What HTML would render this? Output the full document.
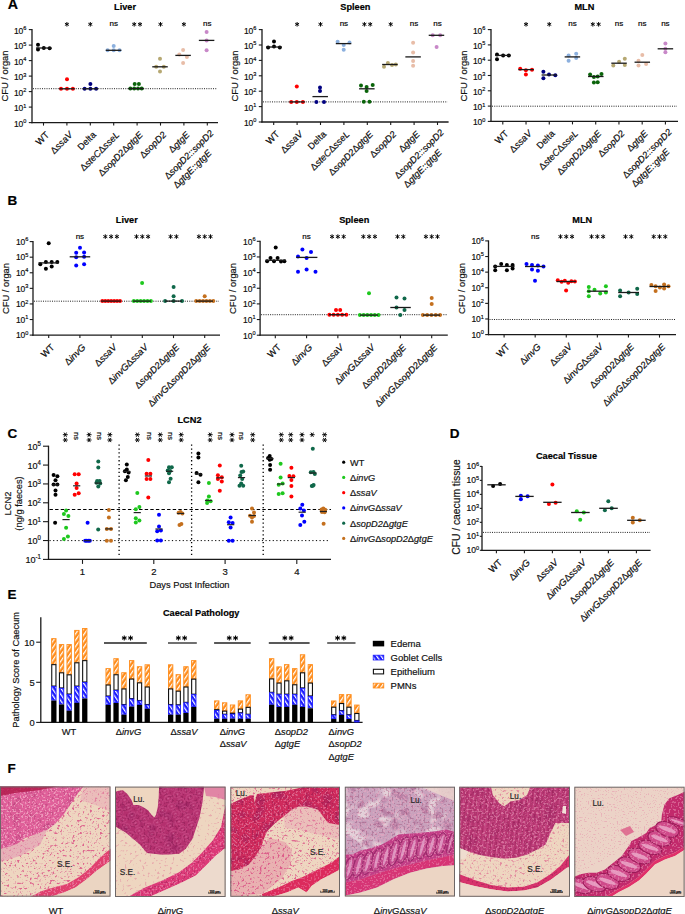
<!DOCTYPE html>
<html><head><meta charset="utf-8"><title>figure</title>
<style>html,body{margin:0;padding:0;background:#fff;}svg{display:block;}
text{font-family:"Liberation Sans", sans-serif;stroke:currentColor;stroke-width:0.18px;}</style></head>
<body>
<svg width="685" height="914" viewBox="0 0 685 914" font-family='"Liberation Sans", sans-serif'>
<rect width="685" height="914" fill="#ffffff"/>
<text x="7.8" y="9.2" font-size="14.2" text-anchor="start" font-weight="bold" fill="#000" color="#000">A</text>
<text x="7.5" y="204.6" font-size="13.5" text-anchor="start" font-weight="bold" fill="#000" color="#000">B</text>
<text x="7.5" y="437.8" font-size="13.5" text-anchor="start" font-weight="bold" fill="#000" color="#000">C</text>
<text x="449.8" y="437.8" font-size="13.5" text-anchor="start" font-weight="bold" fill="#000" color="#000">D</text>
<text x="7.5" y="599.2" font-size="13.5" text-anchor="start" font-weight="bold" fill="#000" color="#000">E</text>
<text x="7.5" y="773.3" font-size="13.5" text-anchor="start" font-weight="bold" fill="#000" color="#000">F</text>
<line x1="32" y1="29.1" x2="32" y2="123.2" stroke="#1a1a1a" stroke-width="1.3" stroke-linecap="butt"/>
<line x1="31.4" y1="122.6" x2="218" y2="122.6" stroke="#1a1a1a" stroke-width="1.3" stroke-linecap="butt"/>
<line x1="28.8" y1="29.6" x2="32" y2="29.6" stroke="#1a1a1a" stroke-width="1.1" stroke-linecap="butt"/>
<text transform="translate(26.4 33.6) scale(0.92 1)" font-size="9.2" text-anchor="end" fill="#111">10<tspan font-size="6.07" dy="-3.6">6</tspan></text>
<line x1="28.8" y1="45.1" x2="32" y2="45.1" stroke="#1a1a1a" stroke-width="1.1" stroke-linecap="butt"/>
<text transform="translate(26.4 49.1) scale(0.92 1)" font-size="9.2" text-anchor="end" fill="#111">10<tspan font-size="6.07" dy="-3.6">5</tspan></text>
<line x1="28.8" y1="60.6" x2="32" y2="60.6" stroke="#1a1a1a" stroke-width="1.1" stroke-linecap="butt"/>
<text transform="translate(26.4 64.6) scale(0.92 1)" font-size="9.2" text-anchor="end" fill="#111">10<tspan font-size="6.07" dy="-3.6">4</tspan></text>
<line x1="28.8" y1="76.1" x2="32" y2="76.1" stroke="#1a1a1a" stroke-width="1.1" stroke-linecap="butt"/>
<text transform="translate(26.4 80.1) scale(0.92 1)" font-size="9.2" text-anchor="end" fill="#111">10<tspan font-size="6.07" dy="-3.6">3</tspan></text>
<line x1="28.8" y1="91.6" x2="32" y2="91.6" stroke="#1a1a1a" stroke-width="1.1" stroke-linecap="butt"/>
<text transform="translate(26.4 95.6) scale(0.92 1)" font-size="9.2" text-anchor="end" fill="#111">10<tspan font-size="6.07" dy="-3.6">2</tspan></text>
<line x1="28.8" y1="107.1" x2="32" y2="107.1" stroke="#1a1a1a" stroke-width="1.1" stroke-linecap="butt"/>
<text transform="translate(26.4 111.1) scale(0.92 1)" font-size="9.2" text-anchor="end" fill="#111">10<tspan font-size="6.07" dy="-3.6">1</tspan></text>
<line x1="28.8" y1="122.6" x2="32" y2="122.6" stroke="#1a1a1a" stroke-width="1.1" stroke-linecap="butt"/>
<text transform="translate(26.4 126.6) scale(0.92 1)" font-size="9.2" text-anchor="end" fill="#111">10<tspan font-size="6.07" dy="-3.6">0</tspan></text>
<line x1="43.5" y1="122.6" x2="43.5" y2="125.6" stroke="#1a1a1a" stroke-width="1.1" stroke-linecap="butt"/>
<line x1="66.9" y1="122.6" x2="66.9" y2="125.6" stroke="#1a1a1a" stroke-width="1.1" stroke-linecap="butt"/>
<line x1="90.3" y1="122.6" x2="90.3" y2="125.6" stroke="#1a1a1a" stroke-width="1.1" stroke-linecap="butt"/>
<line x1="113.7" y1="122.6" x2="113.7" y2="125.6" stroke="#1a1a1a" stroke-width="1.1" stroke-linecap="butt"/>
<line x1="137.1" y1="122.6" x2="137.1" y2="125.6" stroke="#1a1a1a" stroke-width="1.1" stroke-linecap="butt"/>
<line x1="160.5" y1="122.6" x2="160.5" y2="125.6" stroke="#1a1a1a" stroke-width="1.1" stroke-linecap="butt"/>
<line x1="183.9" y1="122.6" x2="183.9" y2="125.6" stroke="#1a1a1a" stroke-width="1.1" stroke-linecap="butt"/>
<line x1="207.3" y1="122.6" x2="207.3" y2="125.6" stroke="#1a1a1a" stroke-width="1.1" stroke-linecap="butt"/>
<text x="125" y="9.6" font-size="9.2" text-anchor="middle" font-weight="bold" fill="#000" color="#000">Liver</text>
<text x="8" y="76" font-size="9.4" text-anchor="middle" fill="#111" color="#111" transform="rotate(-90 8 76)">CFU / organ</text>
<g transform="rotate(-45 49.8 135.4)">
<text x="49.8" y="135.4" font-size="9.3" text-anchor="end" fill="#111">WT</text>
</g>
<g transform="rotate(-45 73.2 135.4)">
<text x="73.2" y="135.4" font-size="9.3" text-anchor="end" fill="#111">Δ<tspan font-style="italic">ssaV</tspan></text>
</g>
<g transform="rotate(-45 96.6 135.4)">
<text x="96.6" y="135.4" font-size="9.3" text-anchor="end" fill="#111">Delta</text>
</g>
<g transform="rotate(-45 120 135.4)">
<text x="120" y="135.4" font-size="9.3" text-anchor="end" fill="#111">Δ<tspan font-style="italic">steC</tspan>Δ<tspan font-style="italic">sseL</tspan></text>
</g>
<g transform="rotate(-45 143.4 135.4)">
<text x="143.4" y="135.4" font-size="9.3" text-anchor="end" fill="#111">Δ<tspan font-style="italic">sopD2</tspan>Δ<tspan font-style="italic">gtgE</tspan></text>
</g>
<g transform="rotate(-45 166.8 135.4)">
<text x="166.8" y="135.4" font-size="9.3" text-anchor="end" fill="#111">Δ<tspan font-style="italic">sopD2</tspan></text>
</g>
<g transform="rotate(-45 190.2 135.4)">
<text x="190.2" y="135.4" font-size="9.3" text-anchor="end" fill="#111">Δ<tspan font-style="italic">gtgE</tspan></text>
</g>
<g transform="rotate(-45 214.2 133.8)">
<text x="214.2" y="133.8" font-size="9.3" text-anchor="end" fill="#111">Δ<tspan font-style="italic">sopD2::sopD2</tspan></text>
<text x="149.05" y="146.4" font-size="9.3" text-anchor="start" fill="#111">Δ<tspan font-style="italic">gtgE::gtgE</tspan></text>
</g>
<line x1="33" y1="88.7" x2="217" y2="88.7" stroke="#222" stroke-width="1" stroke-dasharray="1 1.25" stroke-linecap="butt"/>
<path d="M66.9 22L66.9 26.6M64.91 23.15L68.89 25.45M68.89 23.15L64.91 25.45" stroke="#000" stroke-width="0.95" stroke-linecap="butt" fill="none"/>
<path d="M90.3 22L90.3 26.6M88.31 23.15L92.29 25.45M92.29 23.15L88.31 25.45" stroke="#000" stroke-width="0.95" stroke-linecap="butt" fill="none"/>
<text x="113.7" y="26.4" font-size="8" text-anchor="middle" fill="#000" color="#000">ns</text>
<path d="M134.2 22L134.2 26.6M132.21 23.15L136.19 25.45M136.19 23.15L132.21 25.45" stroke="#000" stroke-width="0.95" stroke-linecap="butt" fill="none"/>
<path d="M140 22L140 26.6M138.01 23.15L141.99 25.45M141.99 23.15L138.01 25.45" stroke="#000" stroke-width="0.95" stroke-linecap="butt" fill="none"/>
<path d="M160.5 22L160.5 26.6M158.51 23.15L162.49 25.45M162.49 23.15L158.51 25.45" stroke="#000" stroke-width="0.95" stroke-linecap="butt" fill="none"/>
<path d="M183.9 22L183.9 26.6M181.91 23.15L185.89 25.45M185.89 23.15L181.91 25.45" stroke="#000" stroke-width="0.95" stroke-linecap="butt" fill="none"/>
<text x="207.3" y="26.4" font-size="8" text-anchor="middle" fill="#000" color="#000">ns</text>
<circle cx="38" cy="44.7" r="2" fill="#000000"/>
<circle cx="38" cy="49.6" r="2" fill="#000000"/>
<circle cx="43.8" cy="47.9" r="2" fill="#000000"/>
<circle cx="49.6" cy="48.2" r="2" fill="#000000"/>
<line x1="36.05" y1="48" x2="51.55" y2="48" stroke="#1a1a1a" stroke-width="1.3" stroke-linecap="butt"/>
<circle cx="61" cy="88.8" r="2" fill="#ff0000"/>
<circle cx="67" cy="88.8" r="2" fill="#ff0000"/>
<circle cx="72.9" cy="88.8" r="2" fill="#ff0000"/>
<circle cx="67" cy="79.3" r="2" fill="#ff0000"/>
<line x1="59.2" y1="88.8" x2="74.7" y2="88.8" stroke="#1a1a1a" stroke-width="1.3" stroke-linecap="butt"/>
<circle cx="84.6" cy="88.8" r="2" fill="#000080"/>
<circle cx="90.4" cy="88.8" r="2" fill="#000080"/>
<circle cx="96.1" cy="88.8" r="2" fill="#000080"/>
<circle cx="90.4" cy="84" r="2" fill="#000080"/>
<line x1="82.6" y1="88.8" x2="98.1" y2="88.8" stroke="#1a1a1a" stroke-width="1.3" stroke-linecap="butt"/>
<circle cx="107.6" cy="50.3" r="2" fill="#8cb0de"/>
<circle cx="113.7" cy="45.9" r="2" fill="#8cb0de"/>
<circle cx="113.7" cy="50.3" r="2" fill="#8cb0de"/>
<circle cx="119.5" cy="50.3" r="2" fill="#8cb0de"/>
<line x1="105.8" y1="50.3" x2="121.3" y2="50.3" stroke="#1a1a1a" stroke-width="1.3" stroke-linecap="butt"/>
<circle cx="130.4" cy="88.6" r="2" fill="#0a640a"/>
<circle cx="134.2" cy="88.6" r="2" fill="#0a640a"/>
<circle cx="138" cy="88.6" r="2" fill="#0a640a"/>
<circle cx="141.7" cy="88.6" r="2" fill="#0a640a"/>
<circle cx="134.7" cy="83.9" r="2" fill="#0a640a"/>
<circle cx="138.9" cy="83.9" r="2" fill="#0a640a"/>
<line x1="128.3" y1="88.6" x2="143.8" y2="88.6" stroke="#1a1a1a" stroke-width="1.3" stroke-linecap="butt"/>
<circle cx="160" cy="58.8" r="2" fill="#b6a872"/>
<circle cx="156.2" cy="66.8" r="2" fill="#b6a872"/>
<circle cx="163.8" cy="66.8" r="2" fill="#b6a872"/>
<circle cx="160" cy="71.5" r="2" fill="#b6a872"/>
<line x1="152.25" y1="66.8" x2="167.75" y2="66.8" stroke="#1a1a1a" stroke-width="1.3" stroke-linecap="butt"/>
<circle cx="183.1" cy="49.9" r="2" fill="#e8bda8"/>
<circle cx="179.3" cy="54.5" r="2" fill="#e8bda8"/>
<circle cx="186.9" cy="56.9" r="2" fill="#e8bda8"/>
<circle cx="183.1" cy="63" r="2" fill="#e8bda8"/>
<line x1="175.35" y1="55.4" x2="190.85" y2="55.4" stroke="#1a1a1a" stroke-width="1.3" stroke-linecap="butt"/>
<circle cx="206.6" cy="31.9" r="2" fill="#c888c8"/>
<circle cx="206.6" cy="40.4" r="2" fill="#c888c8"/>
<circle cx="206.6" cy="50.3" r="2" fill="#c888c8"/>
<line x1="198.85" y1="40.4" x2="214.35" y2="40.4" stroke="#1a1a1a" stroke-width="1.3" stroke-linecap="butt"/>
<line x1="262" y1="29.1" x2="262" y2="122.6" stroke="#1a1a1a" stroke-width="1.3" stroke-linecap="butt"/>
<line x1="261.4" y1="122" x2="448.6" y2="122" stroke="#1a1a1a" stroke-width="1.3" stroke-linecap="butt"/>
<line x1="258.8" y1="29.6" x2="262" y2="29.6" stroke="#1a1a1a" stroke-width="1.1" stroke-linecap="butt"/>
<text transform="translate(256.4 33.6) scale(0.92 1)" font-size="9.2" text-anchor="end" fill="#111">10<tspan font-size="6.07" dy="-3.6">6</tspan></text>
<line x1="258.8" y1="45" x2="262" y2="45" stroke="#1a1a1a" stroke-width="1.1" stroke-linecap="butt"/>
<text transform="translate(256.4 49) scale(0.92 1)" font-size="9.2" text-anchor="end" fill="#111">10<tspan font-size="6.07" dy="-3.6">5</tspan></text>
<line x1="258.8" y1="60.4" x2="262" y2="60.4" stroke="#1a1a1a" stroke-width="1.1" stroke-linecap="butt"/>
<text transform="translate(256.4 64.4) scale(0.92 1)" font-size="9.2" text-anchor="end" fill="#111">10<tspan font-size="6.07" dy="-3.6">4</tspan></text>
<line x1="258.8" y1="75.8" x2="262" y2="75.8" stroke="#1a1a1a" stroke-width="1.1" stroke-linecap="butt"/>
<text transform="translate(256.4 79.8) scale(0.92 1)" font-size="9.2" text-anchor="end" fill="#111">10<tspan font-size="6.07" dy="-3.6">3</tspan></text>
<line x1="258.8" y1="91.2" x2="262" y2="91.2" stroke="#1a1a1a" stroke-width="1.1" stroke-linecap="butt"/>
<text transform="translate(256.4 95.2) scale(0.92 1)" font-size="9.2" text-anchor="end" fill="#111">10<tspan font-size="6.07" dy="-3.6">2</tspan></text>
<line x1="258.8" y1="106.6" x2="262" y2="106.6" stroke="#1a1a1a" stroke-width="1.1" stroke-linecap="butt"/>
<text transform="translate(256.4 110.6) scale(0.92 1)" font-size="9.2" text-anchor="end" fill="#111">10<tspan font-size="6.07" dy="-3.6">1</tspan></text>
<line x1="258.8" y1="122" x2="262" y2="122" stroke="#1a1a1a" stroke-width="1.1" stroke-linecap="butt"/>
<text transform="translate(256.4 126) scale(0.92 1)" font-size="9.2" text-anchor="end" fill="#111">10<tspan font-size="6.07" dy="-3.6">0</tspan></text>
<line x1="273.7" y1="122" x2="273.7" y2="125" stroke="#1a1a1a" stroke-width="1.1" stroke-linecap="butt"/>
<line x1="297.1" y1="122" x2="297.1" y2="125" stroke="#1a1a1a" stroke-width="1.1" stroke-linecap="butt"/>
<line x1="320.5" y1="122" x2="320.5" y2="125" stroke="#1a1a1a" stroke-width="1.1" stroke-linecap="butt"/>
<line x1="343.9" y1="122" x2="343.9" y2="125" stroke="#1a1a1a" stroke-width="1.1" stroke-linecap="butt"/>
<line x1="367.3" y1="122" x2="367.3" y2="125" stroke="#1a1a1a" stroke-width="1.1" stroke-linecap="butt"/>
<line x1="390.7" y1="122" x2="390.7" y2="125" stroke="#1a1a1a" stroke-width="1.1" stroke-linecap="butt"/>
<line x1="414.1" y1="122" x2="414.1" y2="125" stroke="#1a1a1a" stroke-width="1.1" stroke-linecap="butt"/>
<line x1="437.5" y1="122" x2="437.5" y2="125" stroke="#1a1a1a" stroke-width="1.1" stroke-linecap="butt"/>
<text x="355.4" y="9.6" font-size="9.2" text-anchor="middle" font-weight="bold" fill="#000" color="#000">Spleen</text>
<text x="238" y="76" font-size="9.4" text-anchor="middle" fill="#111" color="#111" transform="rotate(-90 238 76)">CFU / organ</text>
<g transform="rotate(-45 280 134.8)">
<text x="280" y="134.8" font-size="9.3" text-anchor="end" fill="#111">WT</text>
</g>
<g transform="rotate(-45 303.4 134.8)">
<text x="303.4" y="134.8" font-size="9.3" text-anchor="end" fill="#111">Δ<tspan font-style="italic">ssaV</tspan></text>
</g>
<g transform="rotate(-45 326.8 134.8)">
<text x="326.8" y="134.8" font-size="9.3" text-anchor="end" fill="#111">Delta</text>
</g>
<g transform="rotate(-45 350.2 134.8)">
<text x="350.2" y="134.8" font-size="9.3" text-anchor="end" fill="#111">Δ<tspan font-style="italic">steC</tspan>Δ<tspan font-style="italic">sseL</tspan></text>
</g>
<g transform="rotate(-45 373.6 134.8)">
<text x="373.6" y="134.8" font-size="9.3" text-anchor="end" fill="#111">Δ<tspan font-style="italic">sopD2</tspan>Δ<tspan font-style="italic">gtgE</tspan></text>
</g>
<g transform="rotate(-45 397 134.8)">
<text x="397" y="134.8" font-size="9.3" text-anchor="end" fill="#111">Δ<tspan font-style="italic">sopD2</tspan></text>
</g>
<g transform="rotate(-45 420.4 134.8)">
<text x="420.4" y="134.8" font-size="9.3" text-anchor="end" fill="#111">Δ<tspan font-style="italic">gtgE</tspan></text>
</g>
<g transform="rotate(-45 444.4 133.2)">
<text x="444.4" y="133.2" font-size="9.3" text-anchor="end" fill="#111">Δ<tspan font-style="italic">sopD2::sopD2</tspan></text>
<text x="379.25" y="145.8" font-size="9.3" text-anchor="start" fill="#111">Δ<tspan font-style="italic">gtgE::gtgE</tspan></text>
</g>
<line x1="263" y1="101.9" x2="447.6" y2="101.9" stroke="#222" stroke-width="1" stroke-dasharray="1 1.25" stroke-linecap="butt"/>
<path d="M297.1 22L297.1 26.6M295.11 23.15L299.09 25.45M299.09 23.15L295.11 25.45" stroke="#000" stroke-width="0.95" stroke-linecap="butt" fill="none"/>
<path d="M320.5 22L320.5 26.6M318.51 23.15L322.49 25.45M322.49 23.15L318.51 25.45" stroke="#000" stroke-width="0.95" stroke-linecap="butt" fill="none"/>
<text x="343.9" y="26.4" font-size="8" text-anchor="middle" fill="#000" color="#000">ns</text>
<path d="M364.4 22L364.4 26.6M362.41 23.15L366.39 25.45M366.39 23.15L362.41 25.45" stroke="#000" stroke-width="0.95" stroke-linecap="butt" fill="none"/>
<path d="M370.2 22L370.2 26.6M368.21 23.15L372.19 25.45M372.19 23.15L368.21 25.45" stroke="#000" stroke-width="0.95" stroke-linecap="butt" fill="none"/>
<path d="M390.7 22L390.7 26.6M388.71 23.15L392.69 25.45M392.69 23.15L388.71 25.45" stroke="#000" stroke-width="0.95" stroke-linecap="butt" fill="none"/>
<text x="414.1" y="26.4" font-size="8" text-anchor="middle" fill="#000" color="#000">ns</text>
<text x="437.5" y="26.4" font-size="8" text-anchor="middle" fill="#000" color="#000">ns</text>
<circle cx="268.1" cy="47.6" r="2" fill="#000000"/>
<circle cx="274" cy="41.5" r="2" fill="#000000"/>
<circle cx="274" cy="46.4" r="2" fill="#000000"/>
<circle cx="279.8" cy="47.6" r="2" fill="#000000"/>
<line x1="266.2" y1="47" x2="281.7" y2="47" stroke="#1a1a1a" stroke-width="1.3" stroke-linecap="butt"/>
<circle cx="291.2" cy="101.9" r="2" fill="#ff0000"/>
<circle cx="296.8" cy="101.9" r="2" fill="#ff0000"/>
<circle cx="302.9" cy="101.9" r="2" fill="#ff0000"/>
<circle cx="296.8" cy="86.5" r="2" fill="#ff0000"/>
<line x1="289.3" y1="101.9" x2="304.8" y2="101.9" stroke="#1a1a1a" stroke-width="1.3" stroke-linecap="butt"/>
<circle cx="316.4" cy="101.9" r="2" fill="#000080"/>
<circle cx="324" cy="101.9" r="2" fill="#000080"/>
<circle cx="320" cy="87.4" r="2" fill="#000080"/>
<circle cx="320" cy="91" r="2" fill="#000080"/>
<line x1="312.45" y1="96.6" x2="327.95" y2="96.6" stroke="#1a1a1a" stroke-width="1.3" stroke-linecap="butt"/>
<circle cx="337.6" cy="41.7" r="2" fill="#8cb0de"/>
<circle cx="343.7" cy="45" r="2" fill="#8cb0de"/>
<circle cx="349.5" cy="42.5" r="2" fill="#8cb0de"/>
<circle cx="343.7" cy="49.7" r="2" fill="#8cb0de"/>
<line x1="335.8" y1="43.6" x2="351.3" y2="43.6" stroke="#1a1a1a" stroke-width="1.3" stroke-linecap="butt"/>
<circle cx="361" cy="85.4" r="2" fill="#0a640a"/>
<circle cx="366.6" cy="86.9" r="2" fill="#0a640a"/>
<circle cx="372.7" cy="85" r="2" fill="#0a640a"/>
<circle cx="366.6" cy="91.1" r="2" fill="#0a640a"/>
<circle cx="363.8" cy="101.8" r="2" fill="#0a640a"/>
<circle cx="369.5" cy="101.8" r="2" fill="#0a640a"/>
<line x1="359.1" y1="88.8" x2="374.6" y2="88.8" stroke="#1a1a1a" stroke-width="1.3" stroke-linecap="butt"/>
<circle cx="384" cy="66.8" r="2" fill="#b6a872"/>
<circle cx="387.9" cy="63" r="2" fill="#b6a872"/>
<circle cx="392" cy="64.9" r="2" fill="#b6a872"/>
<circle cx="395.8" cy="64.5" r="2" fill="#b6a872"/>
<line x1="382.15" y1="64.5" x2="397.65" y2="64.5" stroke="#1a1a1a" stroke-width="1.3" stroke-linecap="butt"/>
<circle cx="413.1" cy="42.7" r="2" fill="#e8bda8"/>
<circle cx="413.1" cy="52.6" r="2" fill="#e8bda8"/>
<circle cx="413.1" cy="61.1" r="2" fill="#e8bda8"/>
<circle cx="413.1" cy="65.8" r="2" fill="#e8bda8"/>
<line x1="405.35" y1="56.9" x2="420.85" y2="56.9" stroke="#1a1a1a" stroke-width="1.3" stroke-linecap="butt"/>
<circle cx="432.7" cy="35.3" r="2" fill="#c888c8"/>
<circle cx="440.2" cy="35.3" r="2" fill="#c888c8"/>
<circle cx="436.6" cy="46.9" r="2" fill="#c888c8"/>
<line x1="428.7" y1="35.3" x2="444.2" y2="35.3" stroke="#1a1a1a" stroke-width="1.3" stroke-linecap="butt"/>
<line x1="491" y1="29.1" x2="491" y2="122" stroke="#1a1a1a" stroke-width="1.3" stroke-linecap="butt"/>
<line x1="490.4" y1="121.4" x2="678" y2="121.4" stroke="#1a1a1a" stroke-width="1.3" stroke-linecap="butt"/>
<line x1="487.8" y1="29.6" x2="491" y2="29.6" stroke="#1a1a1a" stroke-width="1.1" stroke-linecap="butt"/>
<text transform="translate(485.4 33.6) scale(0.92 1)" font-size="9.2" text-anchor="end" fill="#111">10<tspan font-size="6.07" dy="-3.6">6</tspan></text>
<line x1="487.8" y1="44.9" x2="491" y2="44.9" stroke="#1a1a1a" stroke-width="1.1" stroke-linecap="butt"/>
<text transform="translate(485.4 48.9) scale(0.92 1)" font-size="9.2" text-anchor="end" fill="#111">10<tspan font-size="6.07" dy="-3.6">5</tspan></text>
<line x1="487.8" y1="60.2" x2="491" y2="60.2" stroke="#1a1a1a" stroke-width="1.1" stroke-linecap="butt"/>
<text transform="translate(485.4 64.2) scale(0.92 1)" font-size="9.2" text-anchor="end" fill="#111">10<tspan font-size="6.07" dy="-3.6">4</tspan></text>
<line x1="487.8" y1="75.5" x2="491" y2="75.5" stroke="#1a1a1a" stroke-width="1.1" stroke-linecap="butt"/>
<text transform="translate(485.4 79.5) scale(0.92 1)" font-size="9.2" text-anchor="end" fill="#111">10<tspan font-size="6.07" dy="-3.6">3</tspan></text>
<line x1="487.8" y1="90.8" x2="491" y2="90.8" stroke="#1a1a1a" stroke-width="1.1" stroke-linecap="butt"/>
<text transform="translate(485.4 94.8) scale(0.92 1)" font-size="9.2" text-anchor="end" fill="#111">10<tspan font-size="6.07" dy="-3.6">2</tspan></text>
<line x1="487.8" y1="106.1" x2="491" y2="106.1" stroke="#1a1a1a" stroke-width="1.1" stroke-linecap="butt"/>
<text transform="translate(485.4 110.1) scale(0.92 1)" font-size="9.2" text-anchor="end" fill="#111">10<tspan font-size="6.07" dy="-3.6">1</tspan></text>
<line x1="487.8" y1="121.4" x2="491" y2="121.4" stroke="#1a1a1a" stroke-width="1.1" stroke-linecap="butt"/>
<text transform="translate(485.4 125.4) scale(0.92 1)" font-size="9.2" text-anchor="end" fill="#111">10<tspan font-size="6.07" dy="-3.6">0</tspan></text>
<line x1="502.8" y1="121.4" x2="502.8" y2="124.4" stroke="#1a1a1a" stroke-width="1.1" stroke-linecap="butt"/>
<line x1="526.03" y1="121.4" x2="526.03" y2="124.4" stroke="#1a1a1a" stroke-width="1.1" stroke-linecap="butt"/>
<line x1="549.26" y1="121.4" x2="549.26" y2="124.4" stroke="#1a1a1a" stroke-width="1.1" stroke-linecap="butt"/>
<line x1="572.49" y1="121.4" x2="572.49" y2="124.4" stroke="#1a1a1a" stroke-width="1.1" stroke-linecap="butt"/>
<line x1="595.72" y1="121.4" x2="595.72" y2="124.4" stroke="#1a1a1a" stroke-width="1.1" stroke-linecap="butt"/>
<line x1="618.95" y1="121.4" x2="618.95" y2="124.4" stroke="#1a1a1a" stroke-width="1.1" stroke-linecap="butt"/>
<line x1="642.18" y1="121.4" x2="642.18" y2="124.4" stroke="#1a1a1a" stroke-width="1.1" stroke-linecap="butt"/>
<line x1="665.41" y1="121.4" x2="665.41" y2="124.4" stroke="#1a1a1a" stroke-width="1.1" stroke-linecap="butt"/>
<text x="584.4" y="9.6" font-size="9.2" text-anchor="middle" font-weight="bold" fill="#000" color="#000">MLN</text>
<text x="467" y="76" font-size="9.4" text-anchor="middle" fill="#111" color="#111" transform="rotate(-90 467 76)">CFU / organ</text>
<g transform="rotate(-45 509.1 134.2)">
<text x="509.1" y="134.2" font-size="9.3" text-anchor="end" fill="#111">WT</text>
</g>
<g transform="rotate(-45 532.33 134.2)">
<text x="532.33" y="134.2" font-size="9.3" text-anchor="end" fill="#111">Δ<tspan font-style="italic">ssaV</tspan></text>
</g>
<g transform="rotate(-45 555.56 134.2)">
<text x="555.56" y="134.2" font-size="9.3" text-anchor="end" fill="#111">Delta</text>
</g>
<g transform="rotate(-45 578.79 134.2)">
<text x="578.79" y="134.2" font-size="9.3" text-anchor="end" fill="#111">Δ<tspan font-style="italic">steC</tspan>Δ<tspan font-style="italic">sseL</tspan></text>
</g>
<g transform="rotate(-45 602.02 134.2)">
<text x="602.02" y="134.2" font-size="9.3" text-anchor="end" fill="#111">Δ<tspan font-style="italic">sopD2</tspan>Δ<tspan font-style="italic">gtgE</tspan></text>
</g>
<g transform="rotate(-45 625.25 134.2)">
<text x="625.25" y="134.2" font-size="9.3" text-anchor="end" fill="#111">Δ<tspan font-style="italic">sopD2</tspan></text>
</g>
<g transform="rotate(-45 648.48 134.2)">
<text x="648.48" y="134.2" font-size="9.3" text-anchor="end" fill="#111">Δ<tspan font-style="italic">gtgE</tspan></text>
</g>
<g transform="rotate(-45 672.31 132.6)">
<text x="672.31" y="132.6" font-size="9.3" text-anchor="end" fill="#111">Δ<tspan font-style="italic">sopD2::sopD2</tspan></text>
<text x="607.16" y="145.2" font-size="9.3" text-anchor="start" fill="#111">Δ<tspan font-style="italic">gtgE::gtgE</tspan></text>
</g>
<line x1="492" y1="106.2" x2="677" y2="106.2" stroke="#222" stroke-width="1" stroke-dasharray="1 1.25" stroke-linecap="butt"/>
<path d="M526.03 22L526.03 26.6M524.04 23.15L528.02 25.45M528.02 23.15L524.04 25.45" stroke="#000" stroke-width="0.95" stroke-linecap="butt" fill="none"/>
<path d="M549.26 22L549.26 26.6M547.27 23.15L551.25 25.45M551.25 23.15L547.27 25.45" stroke="#000" stroke-width="0.95" stroke-linecap="butt" fill="none"/>
<text x="572.49" y="26.4" font-size="8" text-anchor="middle" fill="#000" color="#000">ns</text>
<path d="M592.82 22L592.82 26.6M590.83 23.15L594.81 25.45M594.81 23.15L590.83 25.45" stroke="#000" stroke-width="0.95" stroke-linecap="butt" fill="none"/>
<path d="M598.62 22L598.62 26.6M596.63 23.15L600.61 25.45M600.61 23.15L596.63 25.45" stroke="#000" stroke-width="0.95" stroke-linecap="butt" fill="none"/>
<text x="618.95" y="26.4" font-size="8" text-anchor="middle" fill="#000" color="#000">ns</text>
<text x="642.18" y="26.4" font-size="8" text-anchor="middle" fill="#000" color="#000">ns</text>
<text x="665.41" y="26.4" font-size="8" text-anchor="middle" fill="#000" color="#000">ns</text>
<circle cx="497" cy="54.6" r="2" fill="#000000"/>
<circle cx="497" cy="59.2" r="2" fill="#000000"/>
<circle cx="503.1" cy="55.4" r="2" fill="#000000"/>
<circle cx="508.8" cy="55.4" r="2" fill="#000000"/>
<line x1="495.15" y1="55.4" x2="510.65" y2="55.4" stroke="#1a1a1a" stroke-width="1.3" stroke-linecap="butt"/>
<circle cx="520.2" cy="68.7" r="2" fill="#ff0000"/>
<circle cx="525.9" cy="70.2" r="2" fill="#ff0000"/>
<circle cx="532" cy="69.8" r="2" fill="#ff0000"/>
<circle cx="525.9" cy="74.6" r="2" fill="#ff0000"/>
<line x1="518.35" y1="69.6" x2="533.85" y2="69.6" stroke="#1a1a1a" stroke-width="1.3" stroke-linecap="butt"/>
<circle cx="543.4" cy="71.7" r="2" fill="#000080"/>
<circle cx="543.4" cy="78.2" r="2" fill="#000080"/>
<circle cx="549" cy="74.6" r="2" fill="#000080"/>
<circle cx="555.3" cy="75.3" r="2" fill="#000080"/>
<line x1="541.6" y1="75" x2="557.1" y2="75" stroke="#1a1a1a" stroke-width="1.3" stroke-linecap="butt"/>
<circle cx="568.6" cy="55.4" r="2" fill="#8cb0de"/>
<circle cx="568.6" cy="60.7" r="2" fill="#8cb0de"/>
<circle cx="576.2" cy="53.7" r="2" fill="#8cb0de"/>
<circle cx="576.2" cy="57.9" r="2" fill="#8cb0de"/>
<line x1="564.65" y1="56.9" x2="580.15" y2="56.9" stroke="#1a1a1a" stroke-width="1.3" stroke-linecap="butt"/>
<circle cx="590.1" cy="74.6" r="2" fill="#0a640a"/>
<circle cx="593.9" cy="76.9" r="2" fill="#0a640a"/>
<circle cx="597.7" cy="76.5" r="2" fill="#0a640a"/>
<circle cx="601.5" cy="74" r="2" fill="#0a640a"/>
<circle cx="593.9" cy="82.5" r="2" fill="#0a640a"/>
<circle cx="597.7" cy="82.2" r="2" fill="#0a640a"/>
<line x1="588.05" y1="76.5" x2="603.55" y2="76.5" stroke="#1a1a1a" stroke-width="1.3" stroke-linecap="butt"/>
<circle cx="613.3" cy="65.5" r="2" fill="#b6a872"/>
<circle cx="619.1" cy="61.7" r="2" fill="#b6a872"/>
<circle cx="624.8" cy="58.8" r="2" fill="#b6a872"/>
<circle cx="624.8" cy="65.1" r="2" fill="#b6a872"/>
<line x1="611.3" y1="63.2" x2="626.8" y2="63.2" stroke="#1a1a1a" stroke-width="1.3" stroke-linecap="butt"/>
<circle cx="642.3" cy="55" r="2" fill="#e8bda8"/>
<circle cx="638.5" cy="60.7" r="2" fill="#e8bda8"/>
<circle cx="638.5" cy="65.5" r="2" fill="#e8bda8"/>
<circle cx="646.1" cy="63.9" r="2" fill="#e8bda8"/>
<line x1="634.55" y1="62.2" x2="650.05" y2="62.2" stroke="#1a1a1a" stroke-width="1.3" stroke-linecap="butt"/>
<circle cx="665.4" cy="43.6" r="2" fill="#c888c8"/>
<circle cx="665.4" cy="48.8" r="2" fill="#c888c8"/>
<circle cx="665.4" cy="52.2" r="2" fill="#c888c8"/>
<line x1="657.65" y1="48.8" x2="673.15" y2="48.8" stroke="#1a1a1a" stroke-width="1.3" stroke-linecap="butt"/>
<line x1="33" y1="241.1" x2="33" y2="335.7" stroke="#1a1a1a" stroke-width="1.3" stroke-linecap="butt"/>
<line x1="32.4" y1="335.1" x2="220" y2="335.1" stroke="#1a1a1a" stroke-width="1.3" stroke-linecap="butt"/>
<line x1="29.7" y1="241.6" x2="33" y2="241.6" stroke="#1a1a1a" stroke-width="1.1" stroke-linecap="butt"/>
<text transform="translate(28.4 244.9) scale(0.92 1)" font-size="9.2" text-anchor="end" fill="#111">10<tspan font-size="6.07" dy="-3.6">6</tspan></text>
<line x1="29.7" y1="257.18" x2="33" y2="257.18" stroke="#1a1a1a" stroke-width="1.1" stroke-linecap="butt"/>
<text transform="translate(28.4 260.48) scale(0.92 1)" font-size="9.2" text-anchor="end" fill="#111">10<tspan font-size="6.07" dy="-3.6">5</tspan></text>
<line x1="29.7" y1="272.77" x2="33" y2="272.77" stroke="#1a1a1a" stroke-width="1.1" stroke-linecap="butt"/>
<text transform="translate(28.4 276.07) scale(0.92 1)" font-size="9.2" text-anchor="end" fill="#111">10<tspan font-size="6.07" dy="-3.6">4</tspan></text>
<line x1="29.7" y1="288.35" x2="33" y2="288.35" stroke="#1a1a1a" stroke-width="1.1" stroke-linecap="butt"/>
<text transform="translate(28.4 291.65) scale(0.92 1)" font-size="9.2" text-anchor="end" fill="#111">10<tspan font-size="6.07" dy="-3.6">3</tspan></text>
<line x1="29.7" y1="303.93" x2="33" y2="303.93" stroke="#1a1a1a" stroke-width="1.1" stroke-linecap="butt"/>
<text transform="translate(28.4 307.23) scale(0.92 1)" font-size="9.2" text-anchor="end" fill="#111">10<tspan font-size="6.07" dy="-3.6">2</tspan></text>
<line x1="29.7" y1="319.52" x2="33" y2="319.52" stroke="#1a1a1a" stroke-width="1.1" stroke-linecap="butt"/>
<text transform="translate(28.4 322.82) scale(0.92 1)" font-size="9.2" text-anchor="end" fill="#111">10<tspan font-size="6.07" dy="-3.6">1</tspan></text>
<line x1="29.7" y1="335.1" x2="33" y2="335.1" stroke="#1a1a1a" stroke-width="1.1" stroke-linecap="butt"/>
<text transform="translate(28.4 338.4) scale(0.92 1)" font-size="9.2" text-anchor="end" fill="#111">10<tspan font-size="6.07" dy="-3.6">0</tspan></text>
<line x1="48.7" y1="335.1" x2="48.7" y2="338.1" stroke="#1a1a1a" stroke-width="1.1" stroke-linecap="butt"/>
<line x1="79.9" y1="335.1" x2="79.9" y2="338.1" stroke="#1a1a1a" stroke-width="1.1" stroke-linecap="butt"/>
<line x1="111.1" y1="335.1" x2="111.1" y2="338.1" stroke="#1a1a1a" stroke-width="1.1" stroke-linecap="butt"/>
<line x1="142.3" y1="335.1" x2="142.3" y2="338.1" stroke="#1a1a1a" stroke-width="1.1" stroke-linecap="butt"/>
<line x1="173.5" y1="335.1" x2="173.5" y2="338.1" stroke="#1a1a1a" stroke-width="1.1" stroke-linecap="butt"/>
<line x1="204.7" y1="335.1" x2="204.7" y2="338.1" stroke="#1a1a1a" stroke-width="1.1" stroke-linecap="butt"/>
<text x="126.8" y="223.2" font-size="9.2" text-anchor="middle" font-weight="bold" fill="#000" color="#000">Liver</text>
<text x="9" y="288.5" font-size="9.4" text-anchor="middle" fill="#111" color="#111" transform="rotate(-90 9 288.5)">CFU / organ</text>
<g transform="rotate(-45 55 347.9)">
<text x="55" y="347.9" font-size="9.3" text-anchor="end" fill="#111">WT</text>
</g>
<g transform="rotate(-45 86.2 347.9)">
<text x="86.2" y="347.9" font-size="9.3" text-anchor="end" fill="#111">Δ<tspan font-style="italic">invG</tspan></text>
</g>
<g transform="rotate(-45 117.4 347.9)">
<text x="117.4" y="347.9" font-size="9.3" text-anchor="end" fill="#111">Δ<tspan font-style="italic">ssaV</tspan></text>
</g>
<g transform="rotate(-45 148.6 347.9)">
<text x="148.6" y="347.9" font-size="9.3" text-anchor="end" fill="#111">Δ<tspan font-style="italic">invG</tspan>Δ<tspan font-style="italic">ssaV</tspan></text>
</g>
<g transform="rotate(-45 179.8 347.9)">
<text x="179.8" y="347.9" font-size="9.3" text-anchor="end" fill="#111">Δ<tspan font-style="italic">sopD2</tspan>Δ<tspan font-style="italic">gtgE</tspan></text>
</g>
<g transform="rotate(-45 211 347.9)">
<text x="211" y="347.9" font-size="9.3" text-anchor="end" fill="#111">Δ<tspan font-style="italic">invG</tspan>Δ<tspan font-style="italic">sopD2</tspan>Δ<tspan font-style="italic">gtgE</tspan></text>
</g>
<line x1="34" y1="301.2" x2="219" y2="301.2" stroke="#222" stroke-width="1" stroke-dasharray="1 1.25" stroke-linecap="butt"/>
<text x="79.9" y="238.7" font-size="8" text-anchor="middle" fill="#000" color="#000">ns</text>
<path d="M105.3 234.3L105.3 238.9M103.31 235.45L107.29 237.75M107.29 235.45L103.31 237.75" stroke="#000" stroke-width="0.95" stroke-linecap="butt" fill="none"/>
<path d="M111.1 234.3L111.1 238.9M109.11 235.45L113.09 237.75M113.09 235.45L109.11 237.75" stroke="#000" stroke-width="0.95" stroke-linecap="butt" fill="none"/>
<path d="M116.9 234.3L116.9 238.9M114.91 235.45L118.89 237.75M118.89 235.45L114.91 237.75" stroke="#000" stroke-width="0.95" stroke-linecap="butt" fill="none"/>
<path d="M136.5 234.3L136.5 238.9M134.51 235.45L138.49 237.75M138.49 235.45L134.51 237.75" stroke="#000" stroke-width="0.95" stroke-linecap="butt" fill="none"/>
<path d="M142.3 234.3L142.3 238.9M140.31 235.45L144.29 237.75M144.29 235.45L140.31 237.75" stroke="#000" stroke-width="0.95" stroke-linecap="butt" fill="none"/>
<path d="M148.1 234.3L148.1 238.9M146.11 235.45L150.09 237.75M150.09 235.45L146.11 237.75" stroke="#000" stroke-width="0.95" stroke-linecap="butt" fill="none"/>
<path d="M170.6 234.3L170.6 238.9M168.61 235.45L172.59 237.75M172.59 235.45L168.61 237.75" stroke="#000" stroke-width="0.95" stroke-linecap="butt" fill="none"/>
<path d="M176.4 234.3L176.4 238.9M174.41 235.45L178.39 237.75M178.39 235.45L174.41 237.75" stroke="#000" stroke-width="0.95" stroke-linecap="butt" fill="none"/>
<path d="M198.9 234.3L198.9 238.9M196.91 235.45L200.89 237.75M200.89 235.45L196.91 237.75" stroke="#000" stroke-width="0.95" stroke-linecap="butt" fill="none"/>
<path d="M204.7 234.3L204.7 238.9M202.71 235.45L206.69 237.75M206.69 235.45L202.71 237.75" stroke="#000" stroke-width="0.95" stroke-linecap="butt" fill="none"/>
<path d="M210.5 234.3L210.5 238.9M208.51 235.45L212.49 237.75M212.49 235.45L208.51 237.75" stroke="#000" stroke-width="0.95" stroke-linecap="butt" fill="none"/>
<circle cx="48.7" cy="243.3" r="2" fill="#000000"/>
<circle cx="40.3" cy="264.2" r="2" fill="#000000"/>
<circle cx="45.9" cy="262.1" r="2" fill="#000000"/>
<circle cx="51.7" cy="262.1" r="2" fill="#000000"/>
<circle cx="57.3" cy="262.1" r="2" fill="#000000"/>
<circle cx="45.9" cy="268.7" r="2" fill="#000000"/>
<circle cx="51.7" cy="266.4" r="2" fill="#000000"/>
<line x1="38.5" y1="262.9" x2="58.7" y2="262.9" stroke="#1a1a1a" stroke-width="1.3" stroke-linecap="butt"/>
<circle cx="80" cy="247.7" r="2" fill="#0000ff"/>
<circle cx="76.2" cy="252.8" r="2" fill="#0000ff"/>
<circle cx="84.1" cy="252.4" r="2" fill="#0000ff"/>
<circle cx="76.2" cy="257.2" r="2" fill="#0000ff"/>
<circle cx="84.1" cy="256.8" r="2" fill="#0000ff"/>
<circle cx="76.2" cy="265.6" r="2" fill="#0000ff"/>
<circle cx="84.1" cy="264.2" r="2" fill="#0000ff"/>
<line x1="69.7" y1="256.8" x2="90.2" y2="256.8" stroke="#1a1a1a" stroke-width="1.3" stroke-linecap="butt"/>
<circle cx="102.3" cy="301.1" r="2" fill="#ff0000"/>
<circle cx="105.25" cy="301.1" r="2" fill="#ff0000"/>
<circle cx="108.2" cy="301.1" r="2" fill="#ff0000"/>
<circle cx="111.15" cy="301.1" r="2" fill="#ff0000"/>
<circle cx="114.1" cy="301.1" r="2" fill="#ff0000"/>
<circle cx="117.05" cy="301.1" r="2" fill="#ff0000"/>
<circle cx="120" cy="301.1" r="2" fill="#ff0000"/>
<line x1="101" y1="301.1" x2="121" y2="301.1" stroke="#1a1a1a" stroke-width="1.3" stroke-linecap="butt"/>
<circle cx="133.8" cy="301.1" r="2" fill="#1ec81e"/>
<circle cx="137.22" cy="301.1" r="2" fill="#1ec81e"/>
<circle cx="140.64" cy="301.1" r="2" fill="#1ec81e"/>
<circle cx="144.06" cy="301.1" r="2" fill="#1ec81e"/>
<circle cx="147.48" cy="301.1" r="2" fill="#1ec81e"/>
<circle cx="150.9" cy="301.1" r="2" fill="#1ec81e"/>
<circle cx="142.1" cy="283" r="2" fill="#1ec81e"/>
<line x1="133" y1="301.1" x2="151" y2="301.1" stroke="#1a1a1a" stroke-width="1.3" stroke-linecap="butt"/>
<circle cx="165.1" cy="301.1" r="2" fill="#10684a"/>
<circle cx="173.6" cy="301.1" r="2" fill="#10684a"/>
<circle cx="182" cy="301.1" r="2" fill="#10684a"/>
<circle cx="173.6" cy="296.3" r="2" fill="#10684a"/>
<circle cx="173.6" cy="286.9" r="2" fill="#10684a"/>
<line x1="165" y1="301.1" x2="182" y2="301.1" stroke="#1a1a1a" stroke-width="1.3" stroke-linecap="butt"/>
<circle cx="196.2" cy="301.1" r="2" fill="#c4701e"/>
<circle cx="199.62" cy="301.1" r="2" fill="#c4701e"/>
<circle cx="203.04" cy="301.1" r="2" fill="#c4701e"/>
<circle cx="206.46" cy="301.1" r="2" fill="#c4701e"/>
<circle cx="209.88" cy="301.1" r="2" fill="#c4701e"/>
<circle cx="213.3" cy="301.1" r="2" fill="#c4701e"/>
<circle cx="204.7" cy="296.3" r="2" fill="#c4701e"/>
<line x1="196" y1="301.1" x2="213" y2="301.1" stroke="#1a1a1a" stroke-width="1.3" stroke-linecap="butt"/>
<line x1="260.1" y1="240.8" x2="260.1" y2="335.8" stroke="#1a1a1a" stroke-width="1.3" stroke-linecap="butt"/>
<line x1="259.5" y1="335.2" x2="447.8" y2="335.2" stroke="#1a1a1a" stroke-width="1.3" stroke-linecap="butt"/>
<line x1="256.8" y1="241.3" x2="260.1" y2="241.3" stroke="#1a1a1a" stroke-width="1.1" stroke-linecap="butt"/>
<text transform="translate(255.5 244.6) scale(0.92 1)" font-size="9.2" text-anchor="end" fill="#111">10<tspan font-size="6.07" dy="-3.6">6</tspan></text>
<line x1="256.8" y1="256.95" x2="260.1" y2="256.95" stroke="#1a1a1a" stroke-width="1.1" stroke-linecap="butt"/>
<text transform="translate(255.5 260.25) scale(0.92 1)" font-size="9.2" text-anchor="end" fill="#111">10<tspan font-size="6.07" dy="-3.6">5</tspan></text>
<line x1="256.8" y1="272.6" x2="260.1" y2="272.6" stroke="#1a1a1a" stroke-width="1.1" stroke-linecap="butt"/>
<text transform="translate(255.5 275.9) scale(0.92 1)" font-size="9.2" text-anchor="end" fill="#111">10<tspan font-size="6.07" dy="-3.6">4</tspan></text>
<line x1="256.8" y1="288.25" x2="260.1" y2="288.25" stroke="#1a1a1a" stroke-width="1.1" stroke-linecap="butt"/>
<text transform="translate(255.5 291.55) scale(0.92 1)" font-size="9.2" text-anchor="end" fill="#111">10<tspan font-size="6.07" dy="-3.6">3</tspan></text>
<line x1="256.8" y1="303.9" x2="260.1" y2="303.9" stroke="#1a1a1a" stroke-width="1.1" stroke-linecap="butt"/>
<text transform="translate(255.5 307.2) scale(0.92 1)" font-size="9.2" text-anchor="end" fill="#111">10<tspan font-size="6.07" dy="-3.6">2</tspan></text>
<line x1="256.8" y1="319.55" x2="260.1" y2="319.55" stroke="#1a1a1a" stroke-width="1.1" stroke-linecap="butt"/>
<text transform="translate(255.5 322.85) scale(0.92 1)" font-size="9.2" text-anchor="end" fill="#111">10<tspan font-size="6.07" dy="-3.6">1</tspan></text>
<line x1="256.8" y1="335.2" x2="260.1" y2="335.2" stroke="#1a1a1a" stroke-width="1.1" stroke-linecap="butt"/>
<text transform="translate(255.5 338.5) scale(0.92 1)" font-size="9.2" text-anchor="end" fill="#111">10<tspan font-size="6.07" dy="-3.6">0</tspan></text>
<line x1="275.3" y1="335.2" x2="275.3" y2="338.2" stroke="#1a1a1a" stroke-width="1.1" stroke-linecap="butt"/>
<line x1="306.58" y1="335.2" x2="306.58" y2="338.2" stroke="#1a1a1a" stroke-width="1.1" stroke-linecap="butt"/>
<line x1="337.86" y1="335.2" x2="337.86" y2="338.2" stroke="#1a1a1a" stroke-width="1.1" stroke-linecap="butt"/>
<line x1="369.14" y1="335.2" x2="369.14" y2="338.2" stroke="#1a1a1a" stroke-width="1.1" stroke-linecap="butt"/>
<line x1="400.42" y1="335.2" x2="400.42" y2="338.2" stroke="#1a1a1a" stroke-width="1.1" stroke-linecap="butt"/>
<line x1="431.7" y1="335.2" x2="431.7" y2="338.2" stroke="#1a1a1a" stroke-width="1.1" stroke-linecap="butt"/>
<text x="354.2" y="223.2" font-size="9.2" text-anchor="middle" font-weight="bold" fill="#000" color="#000">Spleen</text>
<text x="236.1" y="288.5" font-size="9.4" text-anchor="middle" fill="#111" color="#111" transform="rotate(-90 236.1 288.5)">CFU / organ</text>
<g transform="rotate(-45 281.6 348)">
<text x="281.6" y="348" font-size="9.3" text-anchor="end" fill="#111">WT</text>
</g>
<g transform="rotate(-45 312.88 348)">
<text x="312.88" y="348" font-size="9.3" text-anchor="end" fill="#111">Δ<tspan font-style="italic">invG</tspan></text>
</g>
<g transform="rotate(-45 344.16 348)">
<text x="344.16" y="348" font-size="9.3" text-anchor="end" fill="#111">Δ<tspan font-style="italic">ssaV</tspan></text>
</g>
<g transform="rotate(-45 375.44 348)">
<text x="375.44" y="348" font-size="9.3" text-anchor="end" fill="#111">Δ<tspan font-style="italic">invG</tspan>Δ<tspan font-style="italic">ssaV</tspan></text>
</g>
<g transform="rotate(-45 406.72 348)">
<text x="406.72" y="348" font-size="9.3" text-anchor="end" fill="#111">Δ<tspan font-style="italic">sopD2</tspan>Δ<tspan font-style="italic">gtgE</tspan></text>
</g>
<g transform="rotate(-45 438 348)">
<text x="438" y="348" font-size="9.3" text-anchor="end" fill="#111">Δ<tspan font-style="italic">invG</tspan>Δ<tspan font-style="italic">sopD2</tspan>Δ<tspan font-style="italic">gtgE</tspan></text>
</g>
<line x1="261.1" y1="314.7" x2="446.8" y2="314.7" stroke="#222" stroke-width="1" stroke-dasharray="1 1.25" stroke-linecap="butt"/>
<text x="306.58" y="238.7" font-size="8" text-anchor="middle" fill="#000" color="#000">ns</text>
<path d="M332.06 234.3L332.06 238.9M330.07 235.45L334.05 237.75M334.05 235.45L330.07 237.75" stroke="#000" stroke-width="0.95" stroke-linecap="butt" fill="none"/>
<path d="M337.86 234.3L337.86 238.9M335.87 235.45L339.85 237.75M339.85 235.45L335.87 237.75" stroke="#000" stroke-width="0.95" stroke-linecap="butt" fill="none"/>
<path d="M343.66 234.3L343.66 238.9M341.67 235.45L345.65 237.75M345.65 235.45L341.67 237.75" stroke="#000" stroke-width="0.95" stroke-linecap="butt" fill="none"/>
<path d="M363.34 234.3L363.34 238.9M361.35 235.45L365.33 237.75M365.33 235.45L361.35 237.75" stroke="#000" stroke-width="0.95" stroke-linecap="butt" fill="none"/>
<path d="M369.14 234.3L369.14 238.9M367.15 235.45L371.13 237.75M371.13 235.45L367.15 237.75" stroke="#000" stroke-width="0.95" stroke-linecap="butt" fill="none"/>
<path d="M374.94 234.3L374.94 238.9M372.95 235.45L376.93 237.75M376.93 235.45L372.95 237.75" stroke="#000" stroke-width="0.95" stroke-linecap="butt" fill="none"/>
<path d="M397.52 234.3L397.52 238.9M395.53 235.45L399.51 237.75M399.51 235.45L395.53 237.75" stroke="#000" stroke-width="0.95" stroke-linecap="butt" fill="none"/>
<path d="M403.32 234.3L403.32 238.9M401.33 235.45L405.31 237.75M405.31 235.45L401.33 237.75" stroke="#000" stroke-width="0.95" stroke-linecap="butt" fill="none"/>
<path d="M425.9 234.3L425.9 238.9M423.91 235.45L427.89 237.75M427.89 235.45L423.91 237.75" stroke="#000" stroke-width="0.95" stroke-linecap="butt" fill="none"/>
<path d="M431.7 234.3L431.7 238.9M429.71 235.45L433.69 237.75M433.69 235.45L429.71 237.75" stroke="#000" stroke-width="0.95" stroke-linecap="butt" fill="none"/>
<path d="M437.5 234.3L437.5 238.9M435.51 235.45L439.49 237.75M439.49 235.45L435.51 237.75" stroke="#000" stroke-width="0.95" stroke-linecap="butt" fill="none"/>
<circle cx="275.7" cy="247.6" r="2" fill="#000000"/>
<circle cx="267.1" cy="261.2" r="2" fill="#000000"/>
<circle cx="270.5" cy="258" r="2" fill="#000000"/>
<circle cx="274" cy="261.2" r="2" fill="#000000"/>
<circle cx="277.6" cy="258" r="2" fill="#000000"/>
<circle cx="281" cy="261.6" r="2" fill="#000000"/>
<circle cx="284.4" cy="261.2" r="2" fill="#000000"/>
<line x1="265.5" y1="260.3" x2="286" y2="260.3" stroke="#1a1a1a" stroke-width="1.3" stroke-linecap="butt"/>
<circle cx="302.4" cy="249.5" r="2" fill="#0000ff"/>
<circle cx="311" cy="252.1" r="2" fill="#0000ff"/>
<circle cx="298" cy="256.5" r="2" fill="#0000ff"/>
<circle cx="306.6" cy="258" r="2" fill="#0000ff"/>
<circle cx="298" cy="271.7" r="2" fill="#0000ff"/>
<circle cx="306.6" cy="269.4" r="2" fill="#0000ff"/>
<circle cx="315.5" cy="271.7" r="2" fill="#0000ff"/>
<line x1="296.2" y1="257.4" x2="317.4" y2="257.4" stroke="#1a1a1a" stroke-width="1.3" stroke-linecap="butt"/>
<circle cx="329.4" cy="314.7" r="2" fill="#ff0000"/>
<circle cx="333.65" cy="314.7" r="2" fill="#ff0000"/>
<circle cx="337.9" cy="314.7" r="2" fill="#ff0000"/>
<circle cx="342.15" cy="314.7" r="2" fill="#ff0000"/>
<circle cx="346.4" cy="314.7" r="2" fill="#ff0000"/>
<circle cx="336" cy="309.9" r="2" fill="#ff0000"/>
<circle cx="340.2" cy="309.9" r="2" fill="#ff0000"/>
<line x1="329" y1="314.7" x2="346" y2="314.7" stroke="#1a1a1a" stroke-width="1.3" stroke-linecap="butt"/>
<circle cx="359.9" cy="315.1" r="2" fill="#1ec81e"/>
<circle cx="363.62" cy="315.1" r="2" fill="#1ec81e"/>
<circle cx="367.34" cy="315.1" r="2" fill="#1ec81e"/>
<circle cx="371.06" cy="315.1" r="2" fill="#1ec81e"/>
<circle cx="374.78" cy="315.1" r="2" fill="#1ec81e"/>
<circle cx="378.5" cy="315.1" r="2" fill="#1ec81e"/>
<circle cx="369" cy="293.3" r="2" fill="#1ec81e"/>
<line x1="360" y1="315.1" x2="378" y2="315.1" stroke="#1a1a1a" stroke-width="1.3" stroke-linecap="butt"/>
<circle cx="396.5" cy="297.6" r="2" fill="#10684a"/>
<circle cx="404.5" cy="298.6" r="2" fill="#10684a"/>
<circle cx="396.5" cy="307.5" r="2" fill="#10684a"/>
<circle cx="404.5" cy="310" r="2" fill="#10684a"/>
<circle cx="400.3" cy="315.1" r="2" fill="#10684a"/>
<line x1="390.3" y1="307.5" x2="410.8" y2="307.5" stroke="#1a1a1a" stroke-width="1.3" stroke-linecap="butt"/>
<circle cx="422.9" cy="315.1" r="2" fill="#c4701e"/>
<circle cx="427.17" cy="315.1" r="2" fill="#c4701e"/>
<circle cx="431.45" cy="315.1" r="2" fill="#c4701e"/>
<circle cx="435.73" cy="315.1" r="2" fill="#c4701e"/>
<circle cx="440" cy="315.1" r="2" fill="#c4701e"/>
<circle cx="431.7" cy="298" r="2" fill="#c4701e"/>
<circle cx="431.7" cy="304.1" r="2" fill="#c4701e"/>
<line x1="423" y1="315.1" x2="440" y2="315.1" stroke="#1a1a1a" stroke-width="1.3" stroke-linecap="butt"/>
<line x1="488.5" y1="240.4" x2="488.5" y2="335.2" stroke="#1a1a1a" stroke-width="1.3" stroke-linecap="butt"/>
<line x1="487.9" y1="334.6" x2="676" y2="334.6" stroke="#1a1a1a" stroke-width="1.3" stroke-linecap="butt"/>
<line x1="485.2" y1="240.9" x2="488.5" y2="240.9" stroke="#1a1a1a" stroke-width="1.1" stroke-linecap="butt"/>
<text transform="translate(483.9 244.2) scale(0.92 1)" font-size="9.2" text-anchor="end" fill="#111">10<tspan font-size="6.07" dy="-3.6">6</tspan></text>
<line x1="485.2" y1="256.52" x2="488.5" y2="256.52" stroke="#1a1a1a" stroke-width="1.1" stroke-linecap="butt"/>
<text transform="translate(483.9 259.82) scale(0.92 1)" font-size="9.2" text-anchor="end" fill="#111">10<tspan font-size="6.07" dy="-3.6">5</tspan></text>
<line x1="485.2" y1="272.13" x2="488.5" y2="272.13" stroke="#1a1a1a" stroke-width="1.1" stroke-linecap="butt"/>
<text transform="translate(483.9 275.43) scale(0.92 1)" font-size="9.2" text-anchor="end" fill="#111">10<tspan font-size="6.07" dy="-3.6">4</tspan></text>
<line x1="485.2" y1="287.75" x2="488.5" y2="287.75" stroke="#1a1a1a" stroke-width="1.1" stroke-linecap="butt"/>
<text transform="translate(483.9 291.05) scale(0.92 1)" font-size="9.2" text-anchor="end" fill="#111">10<tspan font-size="6.07" dy="-3.6">3</tspan></text>
<line x1="485.2" y1="303.37" x2="488.5" y2="303.37" stroke="#1a1a1a" stroke-width="1.1" stroke-linecap="butt"/>
<text transform="translate(483.9 306.67) scale(0.92 1)" font-size="9.2" text-anchor="end" fill="#111">10<tspan font-size="6.07" dy="-3.6">2</tspan></text>
<line x1="485.2" y1="318.98" x2="488.5" y2="318.98" stroke="#1a1a1a" stroke-width="1.1" stroke-linecap="butt"/>
<text transform="translate(483.9 322.28) scale(0.92 1)" font-size="9.2" text-anchor="end" fill="#111">10<tspan font-size="6.07" dy="-3.6">1</tspan></text>
<line x1="485.2" y1="334.6" x2="488.5" y2="334.6" stroke="#1a1a1a" stroke-width="1.1" stroke-linecap="butt"/>
<text transform="translate(483.9 337.9) scale(0.92 1)" font-size="9.2" text-anchor="end" fill="#111">10<tspan font-size="6.07" dy="-3.6">0</tspan></text>
<line x1="504.1" y1="334.6" x2="504.1" y2="337.6" stroke="#1a1a1a" stroke-width="1.1" stroke-linecap="butt"/>
<line x1="535.18" y1="334.6" x2="535.18" y2="337.6" stroke="#1a1a1a" stroke-width="1.1" stroke-linecap="butt"/>
<line x1="566.26" y1="334.6" x2="566.26" y2="337.6" stroke="#1a1a1a" stroke-width="1.1" stroke-linecap="butt"/>
<line x1="597.34" y1="334.6" x2="597.34" y2="337.6" stroke="#1a1a1a" stroke-width="1.1" stroke-linecap="butt"/>
<line x1="628.42" y1="334.6" x2="628.42" y2="337.6" stroke="#1a1a1a" stroke-width="1.1" stroke-linecap="butt"/>
<line x1="659.5" y1="334.6" x2="659.5" y2="337.6" stroke="#1a1a1a" stroke-width="1.1" stroke-linecap="butt"/>
<text x="582.2" y="223.2" font-size="9.2" text-anchor="middle" font-weight="bold" fill="#000" color="#000">MLN</text>
<text x="464.5" y="288.5" font-size="9.4" text-anchor="middle" fill="#111" color="#111" transform="rotate(-90 464.5 288.5)">CFU / organ</text>
<g transform="rotate(-45 510.4 347.4)">
<text x="510.4" y="347.4" font-size="9.3" text-anchor="end" fill="#111">WT</text>
</g>
<g transform="rotate(-45 541.48 347.4)">
<text x="541.48" y="347.4" font-size="9.3" text-anchor="end" fill="#111">Δ<tspan font-style="italic">invG</tspan></text>
</g>
<g transform="rotate(-45 572.56 347.4)">
<text x="572.56" y="347.4" font-size="9.3" text-anchor="end" fill="#111">Δ<tspan font-style="italic">ssaV</tspan></text>
</g>
<g transform="rotate(-45 603.64 347.4)">
<text x="603.64" y="347.4" font-size="9.3" text-anchor="end" fill="#111">Δ<tspan font-style="italic">invG</tspan>Δ<tspan font-style="italic">ssaV</tspan></text>
</g>
<g transform="rotate(-45 634.72 347.4)">
<text x="634.72" y="347.4" font-size="9.3" text-anchor="end" fill="#111">Δ<tspan font-style="italic">sopD2</tspan>Δ<tspan font-style="italic">gtgE</tspan></text>
</g>
<g transform="rotate(-45 665.8 347.4)">
<text x="665.8" y="347.4" font-size="9.3" text-anchor="end" fill="#111">Δ<tspan font-style="italic">invG</tspan>Δ<tspan font-style="italic">sopD2</tspan>Δ<tspan font-style="italic">gtgE</tspan></text>
</g>
<line x1="489.5" y1="319.5" x2="675" y2="319.5" stroke="#222" stroke-width="1" stroke-dasharray="1 1.25" stroke-linecap="butt"/>
<text x="535.18" y="238.7" font-size="8" text-anchor="middle" fill="#000" color="#000">ns</text>
<path d="M560.46 234.3L560.46 238.9M558.47 235.45L562.45 237.75M562.45 235.45L558.47 237.75" stroke="#000" stroke-width="0.95" stroke-linecap="butt" fill="none"/>
<path d="M566.26 234.3L566.26 238.9M564.27 235.45L568.25 237.75M568.25 235.45L564.27 237.75" stroke="#000" stroke-width="0.95" stroke-linecap="butt" fill="none"/>
<path d="M572.06 234.3L572.06 238.9M570.07 235.45L574.05 237.75M574.05 235.45L570.07 237.75" stroke="#000" stroke-width="0.95" stroke-linecap="butt" fill="none"/>
<path d="M591.54 234.3L591.54 238.9M589.55 235.45L593.53 237.75M593.53 235.45L589.55 237.75" stroke="#000" stroke-width="0.95" stroke-linecap="butt" fill="none"/>
<path d="M597.34 234.3L597.34 238.9M595.35 235.45L599.33 237.75M599.33 235.45L595.35 237.75" stroke="#000" stroke-width="0.95" stroke-linecap="butt" fill="none"/>
<path d="M603.14 234.3L603.14 238.9M601.15 235.45L605.13 237.75M605.13 235.45L601.15 237.75" stroke="#000" stroke-width="0.95" stroke-linecap="butt" fill="none"/>
<path d="M625.52 234.3L625.52 238.9M623.53 235.45L627.51 237.75M627.51 235.45L623.53 237.75" stroke="#000" stroke-width="0.95" stroke-linecap="butt" fill="none"/>
<path d="M631.32 234.3L631.32 238.9M629.33 235.45L633.31 237.75M633.31 235.45L629.33 237.75" stroke="#000" stroke-width="0.95" stroke-linecap="butt" fill="none"/>
<path d="M653.7 234.3L653.7 238.9M651.71 235.45L655.69 237.75M655.69 235.45L651.71 237.75" stroke="#000" stroke-width="0.95" stroke-linecap="butt" fill="none"/>
<path d="M659.5 234.3L659.5 238.9M657.51 235.45L661.49 237.75M661.49 235.45L657.51 237.75" stroke="#000" stroke-width="0.95" stroke-linecap="butt" fill="none"/>
<path d="M665.3 234.3L665.3 238.9M663.31 235.45L667.29 237.75M667.29 235.45L663.31 237.75" stroke="#000" stroke-width="0.95" stroke-linecap="butt" fill="none"/>
<circle cx="495.2" cy="266.4" r="2" fill="#000000"/>
<circle cx="495.2" cy="270.3" r="2" fill="#000000"/>
<circle cx="501.2" cy="264.1" r="2" fill="#000000"/>
<circle cx="506.9" cy="265" r="2" fill="#000000"/>
<circle cx="506.9" cy="270.3" r="2" fill="#000000"/>
<circle cx="512.6" cy="265" r="2" fill="#000000"/>
<circle cx="512.6" cy="268.4" r="2" fill="#000000"/>
<line x1="493.6" y1="266.4" x2="514.5" y2="266.4" stroke="#1a1a1a" stroke-width="1.3" stroke-linecap="butt"/>
<circle cx="526.5" cy="264.1" r="2" fill="#0000ff"/>
<circle cx="532" cy="265" r="2" fill="#0000ff"/>
<circle cx="537.9" cy="265.6" r="2" fill="#0000ff"/>
<circle cx="543.5" cy="266.5" r="2" fill="#0000ff"/>
<circle cx="532" cy="269.4" r="2" fill="#0000ff"/>
<circle cx="537.9" cy="270.7" r="2" fill="#0000ff"/>
<circle cx="535" cy="280.8" r="2" fill="#0000ff"/>
<line x1="525" y1="266.5" x2="544.9" y2="266.5" stroke="#1a1a1a" stroke-width="1.3" stroke-linecap="butt"/>
<circle cx="557.8" cy="280.2" r="2" fill="#ff0000"/>
<circle cx="561.6" cy="281.7" r="2" fill="#ff0000"/>
<circle cx="564.8" cy="280.8" r="2" fill="#ff0000"/>
<circle cx="568.2" cy="282.7" r="2" fill="#ff0000"/>
<circle cx="571.4" cy="281.2" r="2" fill="#ff0000"/>
<circle cx="574.9" cy="281.5" r="2" fill="#ff0000"/>
<circle cx="566.1" cy="290.6" r="2" fill="#ff0000"/>
<line x1="556.5" y1="281.5" x2="576" y2="281.5" stroke="#1a1a1a" stroke-width="1.3" stroke-linecap="butt"/>
<circle cx="588.8" cy="286.9" r="2" fill="#1ec81e"/>
<circle cx="588.8" cy="291.2" r="2" fill="#1ec81e"/>
<circle cx="588.8" cy="296.3" r="2" fill="#1ec81e"/>
<circle cx="594.5" cy="289.7" r="2" fill="#1ec81e"/>
<circle cx="600.2" cy="293.5" r="2" fill="#1ec81e"/>
<circle cx="605.9" cy="286.3" r="2" fill="#1ec81e"/>
<circle cx="605.9" cy="292.5" r="2" fill="#1ec81e"/>
<line x1="587.3" y1="291.2" x2="607.8" y2="291.2" stroke="#1a1a1a" stroke-width="1.3" stroke-linecap="butt"/>
<circle cx="620.1" cy="290.6" r="2" fill="#10684a"/>
<circle cx="620.1" cy="296.3" r="2" fill="#10684a"/>
<circle cx="628.6" cy="292.5" r="2" fill="#10684a"/>
<circle cx="637.2" cy="288.7" r="2" fill="#10684a"/>
<circle cx="637.2" cy="294.1" r="2" fill="#10684a"/>
<line x1="618.2" y1="292.5" x2="639" y2="292.5" stroke="#1a1a1a" stroke-width="1.3" stroke-linecap="butt"/>
<circle cx="651.4" cy="285" r="2" fill="#c4701e"/>
<circle cx="655.6" cy="286.3" r="2" fill="#c4701e"/>
<circle cx="659.9" cy="287.4" r="2" fill="#c4701e"/>
<circle cx="664.1" cy="284.4" r="2" fill="#c4701e"/>
<circle cx="664.1" cy="288.4" r="2" fill="#c4701e"/>
<circle cx="668.5" cy="286.3" r="2" fill="#c4701e"/>
<circle cx="655.6" cy="291" r="2" fill="#c4701e"/>
<line x1="649.5" y1="286.5" x2="669.8" y2="286.5" stroke="#1a1a1a" stroke-width="1.3" stroke-linecap="butt"/>
<line x1="48.5" y1="445.7" x2="48.5" y2="560" stroke="#1a1a1a" stroke-width="1.3" stroke-linecap="butt"/>
<line x1="47.9" y1="559.4" x2="331" y2="559.4" stroke="#1a1a1a" stroke-width="1.3" stroke-linecap="butt"/>
<line x1="43" y1="446.2" x2="48.5" y2="446.2" stroke="#1a1a1a" stroke-width="1.1" stroke-linecap="butt"/>
<text transform="translate(40.9 449.7) scale(0.95 1)" font-size="9.6" text-anchor="end" fill="#111">10<tspan font-size="6.34" dy="-3.6">5</tspan></text>
<line x1="43" y1="465.07" x2="48.5" y2="465.07" stroke="#1a1a1a" stroke-width="1.1" stroke-linecap="butt"/>
<text transform="translate(40.9 468.57) scale(0.95 1)" font-size="9.6" text-anchor="end" fill="#111">10<tspan font-size="6.34" dy="-3.6">4</tspan></text>
<line x1="43" y1="483.93" x2="48.5" y2="483.93" stroke="#1a1a1a" stroke-width="1.1" stroke-linecap="butt"/>
<text transform="translate(40.9 487.43) scale(0.95 1)" font-size="9.6" text-anchor="end" fill="#111">10<tspan font-size="6.34" dy="-3.6">3</tspan></text>
<line x1="43" y1="502.8" x2="48.5" y2="502.8" stroke="#1a1a1a" stroke-width="1.1" stroke-linecap="butt"/>
<text transform="translate(40.9 506.3) scale(0.95 1)" font-size="9.6" text-anchor="end" fill="#111">10<tspan font-size="6.34" dy="-3.6">2</tspan></text>
<line x1="43" y1="521.67" x2="48.5" y2="521.67" stroke="#1a1a1a" stroke-width="1.1" stroke-linecap="butt"/>
<text transform="translate(40.9 525.17) scale(0.95 1)" font-size="9.6" text-anchor="end" fill="#111">10<tspan font-size="6.34" dy="-3.6">1</tspan></text>
<line x1="43" y1="540.53" x2="48.5" y2="540.53" stroke="#1a1a1a" stroke-width="1.1" stroke-linecap="butt"/>
<text transform="translate(40.9 544.03) scale(0.95 1)" font-size="9.6" text-anchor="end" fill="#111">10<tspan font-size="6.34" dy="-3.6">0</tspan></text>
<line x1="43" y1="559.4" x2="48.5" y2="559.4" stroke="#1a1a1a" stroke-width="1.1" stroke-linecap="butt"/>
<text transform="translate(40.9 562.9) scale(0.95 1)" font-size="9.6" text-anchor="end" fill="#111">10<tspan font-size="6.34" dy="-3.6">-1</tspan></text>
<line x1="82.5" y1="559.4" x2="82.5" y2="563.9" stroke="#1a1a1a" stroke-width="1.1" stroke-linecap="butt"/>
<text x="82.5" y="575" font-size="9.5" text-anchor="middle" fill="#111" color="#111">1</text>
<line x1="153.8" y1="559.4" x2="153.8" y2="563.9" stroke="#1a1a1a" stroke-width="1.1" stroke-linecap="butt"/>
<text x="153.8" y="575" font-size="9.5" text-anchor="middle" fill="#111" color="#111">2</text>
<line x1="225.1" y1="559.4" x2="225.1" y2="563.9" stroke="#1a1a1a" stroke-width="1.1" stroke-linecap="butt"/>
<text x="225.1" y="575" font-size="9.5" text-anchor="middle" fill="#111" color="#111">3</text>
<line x1="296.8" y1="559.4" x2="296.8" y2="563.9" stroke="#1a1a1a" stroke-width="1.1" stroke-linecap="butt"/>
<text x="296.8" y="575" font-size="9.5" text-anchor="middle" fill="#111" color="#111">4</text>
<text x="189.5" y="587.5" font-size="9.3" text-anchor="middle" fill="#111" color="#111">Days Post Infection</text>
<text x="10.5" y="503.5" font-size="9.3" text-anchor="middle" fill="#111" color="#111" transform="rotate(-90 10.5 503.5)">LCN2</text>
<text x="21.5" y="503.5" font-size="9.3" text-anchor="middle" fill="#111" color="#111" transform="rotate(-90 21.5 503.5)">(ng/g faeces)</text>
<text x="189.5" y="423.3" font-size="9.2" text-anchor="middle" font-weight="bold" fill="#000" color="#000">LCN2</text>
<line x1="119.1" y1="444.5" x2="119.1" y2="557" stroke="#000" stroke-width="1.3" stroke-dasharray="1.3 2.6" stroke-linecap="butt"/>
<line x1="191.6" y1="444.5" x2="191.6" y2="557" stroke="#000" stroke-width="1.3" stroke-dasharray="1.3 2.6" stroke-linecap="butt"/>
<line x1="263.2" y1="444.5" x2="263.2" y2="557" stroke="#000" stroke-width="1.3" stroke-dasharray="1.3 2.6" stroke-linecap="butt"/>
<line x1="49.5" y1="509.5" x2="331" y2="509.5" stroke="#000" stroke-width="1.2" stroke-dasharray="3.4 2.2" stroke-linecap="butt"/>
<line x1="49.5" y1="540.6" x2="328" y2="540.6" stroke="#000" stroke-width="1" stroke-dasharray="1.2 2.4" stroke-linecap="butt"/>
<path d="M62.85 434.7L67.75 434.7M64.08 432.58L66.52 436.82M66.52 432.58L64.08 436.82" stroke="#000" stroke-width="0.95" stroke-linecap="butt" fill="none"/>
<path d="M62.85 440L67.75 440M64.08 437.88L66.52 442.12M66.52 437.88L64.08 442.12" stroke="#000" stroke-width="0.95" stroke-linecap="butt" fill="none"/>
<text x="73.9" y="436" font-size="7.4" text-anchor="middle" fill="#000" transform="rotate(90 73.9 436)">ns</text>
<path d="M86.65 434.7L91.55 434.7M87.88 432.58L90.32 436.82M90.32 432.58L87.88 436.82" stroke="#000" stroke-width="0.95" stroke-linecap="butt" fill="none"/>
<path d="M86.65 440L91.55 440M87.88 437.88L90.32 442.12M90.32 437.88L87.88 442.12" stroke="#000" stroke-width="0.95" stroke-linecap="butt" fill="none"/>
<text x="96.7" y="436" font-size="7.4" text-anchor="middle" fill="#000" transform="rotate(90 96.7 436)">ns</text>
<path d="M107.35 434.7L112.25 434.7M108.58 432.58L111.02 436.82M111.02 432.58L108.58 436.82" stroke="#000" stroke-width="0.95" stroke-linecap="butt" fill="none"/>
<path d="M107.35 440L112.25 440M108.58 437.88L111.02 442.12M111.02 437.88L108.58 442.12" stroke="#000" stroke-width="0.95" stroke-linecap="butt" fill="none"/>
<path d="M134.95 434.7L139.85 434.7M136.18 432.58L138.62 436.82M138.62 432.58L136.18 436.82" stroke="#000" stroke-width="0.95" stroke-linecap="butt" fill="none"/>
<path d="M134.95 440L139.85 440M136.18 437.88L138.62 442.12M138.62 437.88L136.18 442.12" stroke="#000" stroke-width="0.95" stroke-linecap="butt" fill="none"/>
<text x="146.7" y="436" font-size="7.4" text-anchor="middle" fill="#000" transform="rotate(90 146.7 436)">ns</text>
<path d="M157.85 434.7L162.75 434.7M159.08 432.58L161.53 436.82M161.53 432.58L159.08 436.82" stroke="#000" stroke-width="0.95" stroke-linecap="butt" fill="none"/>
<path d="M157.85 440L162.75 440M159.08 437.88L161.53 442.12M161.53 437.88L159.08 442.12" stroke="#000" stroke-width="0.95" stroke-linecap="butt" fill="none"/>
<text x="167.5" y="436" font-size="7.4" text-anchor="middle" fill="#000" transform="rotate(90 167.5 436)">ns</text>
<path d="M178.75 434.7L183.65 434.7M179.97 432.58L182.42 436.82M182.42 432.58L179.97 436.82" stroke="#000" stroke-width="0.95" stroke-linecap="butt" fill="none"/>
<path d="M178.75 440L183.65 440M179.97 437.88L182.42 442.12M182.42 437.88L179.97 442.12" stroke="#000" stroke-width="0.95" stroke-linecap="butt" fill="none"/>
<path d="M207.75 434.7L212.65 434.7M208.97 432.58L211.42 436.82M211.42 432.58L208.97 436.82" stroke="#000" stroke-width="0.95" stroke-linecap="butt" fill="none"/>
<path d="M207.75 440L212.65 440M208.97 437.88L211.42 442.12M211.42 437.88L208.97 442.12" stroke="#000" stroke-width="0.95" stroke-linecap="butt" fill="none"/>
<text x="218.2" y="436" font-size="7.4" text-anchor="middle" fill="#000" transform="rotate(90 218.2 436)">ns</text>
<path d="M229.55 434.7L234.45 434.7M230.78 432.58L233.22 436.82M233.22 432.58L230.78 436.82" stroke="#000" stroke-width="0.95" stroke-linecap="butt" fill="none"/>
<path d="M229.55 440L234.45 440M230.78 437.88L233.22 442.12M233.22 437.88L230.78 442.12" stroke="#000" stroke-width="0.95" stroke-linecap="butt" fill="none"/>
<text x="238.9" y="436" font-size="7.4" text-anchor="middle" fill="#000" transform="rotate(90 238.9 436)">ns</text>
<path d="M250.25 434.7L255.15 434.7M251.47 432.58L253.92 436.82M253.92 432.58L251.47 436.82" stroke="#000" stroke-width="0.95" stroke-linecap="butt" fill="none"/>
<path d="M250.25 440L255.15 440M251.47 437.88L253.92 442.12M253.92 437.88L251.47 442.12" stroke="#000" stroke-width="0.95" stroke-linecap="butt" fill="none"/>
<path d="M278.85 434.7L283.75 434.7M280.07 432.58L282.53 436.82M282.53 432.58L280.07 436.82" stroke="#000" stroke-width="0.95" stroke-linecap="butt" fill="none"/>
<path d="M278.85 440L283.75 440M280.07 437.88L282.53 442.12M282.53 437.88L280.07 442.12" stroke="#000" stroke-width="0.95" stroke-linecap="butt" fill="none"/>
<path d="M288.25 434.7L293.15 434.7M289.47 432.58L291.93 436.82M291.93 432.58L289.47 436.82" stroke="#000" stroke-width="0.95" stroke-linecap="butt" fill="none"/>
<path d="M288.25 440L293.15 440M289.47 437.88L291.93 442.12M291.93 437.88L289.47 442.12" stroke="#000" stroke-width="0.95" stroke-linecap="butt" fill="none"/>
<path d="M299.55 434.7L304.45 434.7M300.77 432.58L303.23 436.82M303.23 432.58L300.77 436.82" stroke="#000" stroke-width="0.95" stroke-linecap="butt" fill="none"/>
<path d="M299.55 440L304.45 440M300.77 437.88L303.23 442.12M303.23 437.88L300.77 442.12" stroke="#000" stroke-width="0.95" stroke-linecap="butt" fill="none"/>
<path d="M309.75 434.7L314.65 434.7M310.97 432.58L313.43 436.82M313.43 432.58L310.97 436.82" stroke="#000" stroke-width="0.95" stroke-linecap="butt" fill="none"/>
<path d="M322.15 434.7L327.05 434.7M323.38 432.58L325.83 436.82M325.83 432.58L323.38 436.82" stroke="#000" stroke-width="0.95" stroke-linecap="butt" fill="none"/>
<path d="M322.15 440L327.05 440M323.38 437.88L325.83 442.12M325.83 437.88L323.38 442.12" stroke="#000" stroke-width="0.95" stroke-linecap="butt" fill="none"/>
<circle cx="53.6" cy="474.9" r="2" fill="#000000"/>
<circle cx="57.4" cy="476.2" r="2" fill="#000000"/>
<circle cx="55.5" cy="480.2" r="2" fill="#000000"/>
<circle cx="53.6" cy="484.6" r="2" fill="#000000"/>
<circle cx="57.4" cy="484.6" r="2" fill="#000000"/>
<circle cx="55.5" cy="490.5" r="2" fill="#000000"/>
<circle cx="55.5" cy="494.8" r="2" fill="#000000"/>
<circle cx="55.1" cy="522.8" r="2" fill="#000000"/>
<circle cx="74.7" cy="474.3" r="2" fill="#ff0000"/>
<circle cx="78.7" cy="474.3" r="2" fill="#ff0000"/>
<circle cx="76.6" cy="483.6" r="2" fill="#ff0000"/>
<circle cx="76.6" cy="488.1" r="2" fill="#ff0000"/>
<circle cx="74.7" cy="494.8" r="2" fill="#ff0000"/>
<circle cx="78.7" cy="493.3" r="2" fill="#ff0000"/>
<circle cx="98.3" cy="461.4" r="2" fill="#10684a"/>
<circle cx="98.3" cy="467.5" r="2" fill="#10684a"/>
<circle cx="97.1" cy="480.9" r="2" fill="#10684a"/>
<circle cx="99.6" cy="480.9" r="2" fill="#10684a"/>
<circle cx="96.5" cy="482.7" r="2" fill="#10684a"/>
<circle cx="100.2" cy="483.6" r="2" fill="#10684a"/>
<circle cx="98.3" cy="486.5" r="2" fill="#10684a"/>
<circle cx="98.2" cy="529.6" r="2" fill="#10684a"/>
<circle cx="66.1" cy="510.4" r="2" fill="#1ec81e"/>
<circle cx="63.9" cy="514.1" r="2" fill="#1ec81e"/>
<circle cx="68.4" cy="515.9" r="2" fill="#1ec81e"/>
<circle cx="66.1" cy="527.8" r="2" fill="#1ec81e"/>
<circle cx="67.9" cy="536.5" r="2" fill="#1ec81e"/>
<circle cx="63.9" cy="538.9" r="2" fill="#1ec81e"/>
<circle cx="87.6" cy="522.8" r="2" fill="#0000ff"/>
<circle cx="85.2" cy="540.7" r="2" fill="#0000ff"/>
<circle cx="86.7" cy="540.7" r="2" fill="#0000ff"/>
<circle cx="88.3" cy="540.7" r="2" fill="#0000ff"/>
<circle cx="89.8" cy="540.7" r="2" fill="#0000ff"/>
<circle cx="108.9" cy="510.1" r="2" fill="#c4701e"/>
<circle cx="108.9" cy="517.4" r="2" fill="#c4701e"/>
<circle cx="106.8" cy="528.9" r="2" fill="#c4701e"/>
<circle cx="111" cy="528.9" r="2" fill="#c4701e"/>
<circle cx="106.8" cy="540.7" r="2" fill="#c4701e"/>
<circle cx="111" cy="540.7" r="2" fill="#c4701e"/>
<circle cx="126.8" cy="464.4" r="2" fill="#000000"/>
<circle cx="126.8" cy="469.4" r="2" fill="#000000"/>
<circle cx="124.9" cy="471.3" r="2" fill="#000000"/>
<circle cx="128.6" cy="472.5" r="2" fill="#000000"/>
<circle cx="127.8" cy="477" r="2" fill="#000000"/>
<circle cx="125.9" cy="480.3" r="2" fill="#000000"/>
<circle cx="148.3" cy="459.9" r="2" fill="#ff0000"/>
<circle cx="146.6" cy="473.7" r="2" fill="#ff0000"/>
<circle cx="150.4" cy="473.7" r="2" fill="#ff0000"/>
<circle cx="146.6" cy="479.1" r="2" fill="#ff0000"/>
<circle cx="150.4" cy="479.1" r="2" fill="#ff0000"/>
<circle cx="148.3" cy="497.4" r="2" fill="#ff0000"/>
<circle cx="169" cy="467.3" r="2" fill="#10684a"/>
<circle cx="171.8" cy="467.3" r="2" fill="#10684a"/>
<circle cx="167.7" cy="470.4" r="2" fill="#10684a"/>
<circle cx="170.2" cy="471" r="2" fill="#10684a"/>
<circle cx="169" cy="473.3" r="2" fill="#10684a"/>
<circle cx="170.6" cy="478.7" r="2" fill="#10684a"/>
<circle cx="169" cy="482.2" r="2" fill="#10684a"/>
<circle cx="137.3" cy="493.1" r="2" fill="#1ec81e"/>
<circle cx="139.4" cy="507.1" r="2" fill="#1ec81e"/>
<circle cx="135.8" cy="509.2" r="2" fill="#1ec81e"/>
<circle cx="135.8" cy="518.3" r="2" fill="#1ec81e"/>
<circle cx="139.4" cy="520.4" r="2" fill="#1ec81e"/>
<circle cx="135.8" cy="522.5" r="2" fill="#1ec81e"/>
<circle cx="159" cy="514.8" r="2" fill="#0000ff"/>
<circle cx="159" cy="526.6" r="2" fill="#0000ff"/>
<circle cx="157.2" cy="531.3" r="2" fill="#0000ff"/>
<circle cx="160.9" cy="530.6" r="2" fill="#0000ff"/>
<circle cx="157.2" cy="540.6" r="2" fill="#0000ff"/>
<circle cx="160.9" cy="540.6" r="2" fill="#0000ff"/>
<circle cx="178.6" cy="512.7" r="2" fill="#c4701e"/>
<circle cx="180.5" cy="512.1" r="2" fill="#c4701e"/>
<circle cx="182.4" cy="513.6" r="2" fill="#c4701e"/>
<circle cx="179.5" cy="525.1" r="2" fill="#c4701e"/>
<circle cx="181.4" cy="523.9" r="2" fill="#c4701e"/>
<circle cx="198.4" cy="453.6" r="2" fill="#000000"/>
<circle cx="198.4" cy="457.6" r="2" fill="#000000"/>
<circle cx="196.6" cy="473" r="2" fill="#000000"/>
<circle cx="200.5" cy="474.7" r="2" fill="#000000"/>
<circle cx="198.4" cy="482.2" r="2" fill="#000000"/>
<circle cx="219.8" cy="465.5" r="2" fill="#ff0000"/>
<circle cx="217.9" cy="475.2" r="2" fill="#ff0000"/>
<circle cx="221.8" cy="477.3" r="2" fill="#ff0000"/>
<circle cx="217.9" cy="479.1" r="2" fill="#ff0000"/>
<circle cx="221.8" cy="481.5" r="2" fill="#ff0000"/>
<circle cx="219.8" cy="490.7" r="2" fill="#ff0000"/>
<circle cx="241.2" cy="465.7" r="2" fill="#10684a"/>
<circle cx="241.5" cy="472" r="2" fill="#10684a"/>
<circle cx="243.2" cy="471.6" r="2" fill="#10684a"/>
<circle cx="240.2" cy="475.6" r="2" fill="#10684a"/>
<circle cx="242.2" cy="478.9" r="2" fill="#10684a"/>
<circle cx="241.2" cy="483.5" r="2" fill="#10684a"/>
<circle cx="239.5" cy="485.7" r="2" fill="#10684a"/>
<circle cx="243.2" cy="485.7" r="2" fill="#10684a"/>
<circle cx="208.9" cy="482.9" r="2" fill="#1ec81e"/>
<circle cx="208.9" cy="496.4" r="2" fill="#1ec81e"/>
<circle cx="207.3" cy="500.4" r="2" fill="#1ec81e"/>
<circle cx="210.6" cy="501.3" r="2" fill="#1ec81e"/>
<circle cx="207.1" cy="503" r="2" fill="#1ec81e"/>
<circle cx="230.6" cy="517.5" r="2" fill="#0000ff"/>
<circle cx="228.8" cy="522.3" r="2" fill="#0000ff"/>
<circle cx="232.6" cy="523.1" r="2" fill="#0000ff"/>
<circle cx="230.6" cy="527.6" r="2" fill="#0000ff"/>
<circle cx="228.8" cy="540.7" r="2" fill="#0000ff"/>
<circle cx="232.6" cy="540.7" r="2" fill="#0000ff"/>
<circle cx="252" cy="508.6" r="2" fill="#c4701e"/>
<circle cx="254" cy="512.6" r="2" fill="#c4701e"/>
<circle cx="250" cy="515.7" r="2" fill="#c4701e"/>
<circle cx="254" cy="516.1" r="2" fill="#c4701e"/>
<circle cx="252" cy="517.5" r="2" fill="#c4701e"/>
<circle cx="252" cy="521.8" r="2" fill="#c4701e"/>
<circle cx="269.7" cy="455.9" r="2" fill="#000000"/>
<circle cx="268.1" cy="457.9" r="2" fill="#000000"/>
<circle cx="271.4" cy="458.9" r="2" fill="#000000"/>
<circle cx="269.7" cy="459.8" r="2" fill="#000000"/>
<circle cx="270.1" cy="465.1" r="2" fill="#000000"/>
<circle cx="270.1" cy="469.7" r="2" fill="#000000"/>
<circle cx="280.6" cy="463.8" r="2" fill="#1ec81e"/>
<circle cx="280.6" cy="477.6" r="2" fill="#1ec81e"/>
<circle cx="278.7" cy="484.8" r="2" fill="#1ec81e"/>
<circle cx="282.6" cy="483.5" r="2" fill="#1ec81e"/>
<circle cx="278.7" cy="494" r="2" fill="#1ec81e"/>
<circle cx="282.6" cy="493.3" r="2" fill="#1ec81e"/>
<circle cx="291.4" cy="467.7" r="2" fill="#ff0000"/>
<circle cx="289.4" cy="476" r="2" fill="#ff0000"/>
<circle cx="293.4" cy="476.2" r="2" fill="#ff0000"/>
<circle cx="291.4" cy="479.9" r="2" fill="#ff0000"/>
<circle cx="291.4" cy="486.1" r="2" fill="#ff0000"/>
<circle cx="291.4" cy="496.4" r="2" fill="#ff0000"/>
<circle cx="312.8" cy="448.7" r="2" fill="#10684a"/>
<circle cx="310.8" cy="472.3" r="2" fill="#10684a"/>
<circle cx="313.5" cy="472" r="2" fill="#10684a"/>
<circle cx="314.8" cy="473.9" r="2" fill="#10684a"/>
<circle cx="312.8" cy="485.7" r="2" fill="#10684a"/>
<circle cx="311.8" cy="486.1" r="2" fill="#10684a"/>
<circle cx="313.6" cy="484.9" r="2" fill="#10684a"/>
<circle cx="302.3" cy="504.7" r="2" fill="#0000ff"/>
<circle cx="300.3" cy="508.6" r="2" fill="#0000ff"/>
<circle cx="303.9" cy="510.5" r="2" fill="#0000ff"/>
<circle cx="302" cy="515.5" r="2" fill="#0000ff"/>
<circle cx="304.3" cy="521.8" r="2" fill="#0000ff"/>
<circle cx="300.3" cy="525.1" r="2" fill="#0000ff"/>
<circle cx="321.5" cy="509.5" r="2" fill="#c4701e"/>
<circle cx="323.3" cy="508.5" r="2" fill="#c4701e"/>
<circle cx="325.2" cy="509.7" r="2" fill="#c4701e"/>
<circle cx="322" cy="512" r="2" fill="#c4701e"/>
<circle cx="324.6" cy="512.2" r="2" fill="#c4701e"/>
<circle cx="323.6" cy="523.8" r="2" fill="#c4701e"/>
<line x1="51.85" y1="485" x2="59.05" y2="485" stroke="#222" stroke-width="1.2" stroke-linecap="butt"/>
<line x1="73.07" y1="485.8" x2="80.27" y2="485.8" stroke="#222" stroke-width="1.2" stroke-linecap="butt"/>
<line x1="94.71" y1="483.1" x2="101.91" y2="483.1" stroke="#222" stroke-width="1.2" stroke-linecap="butt"/>
<line x1="62.45" y1="519.6" x2="69.65" y2="519.6" stroke="#222" stroke-width="1.2" stroke-linecap="butt"/>
<line x1="83.92" y1="540.7" x2="91.12" y2="540.7" stroke="#222" stroke-width="1.2" stroke-linecap="butt"/>
<line x1="105.3" y1="528.9" x2="112.5" y2="528.9" stroke="#222" stroke-width="1.2" stroke-linecap="butt"/>
<line x1="123.2" y1="471.5" x2="130.4" y2="471.5" stroke="#222" stroke-width="1.2" stroke-linecap="butt"/>
<line x1="144.83" y1="476" x2="152.03" y2="476" stroke="#222" stroke-width="1.2" stroke-linecap="butt"/>
<line x1="166.01" y1="471.3" x2="173.21" y2="471.3" stroke="#222" stroke-width="1.2" stroke-linecap="butt"/>
<line x1="133.65" y1="512.6" x2="140.85" y2="512.6" stroke="#222" stroke-width="1.2" stroke-linecap="butt"/>
<line x1="155.43" y1="529" x2="162.63" y2="529" stroke="#222" stroke-width="1.2" stroke-linecap="butt"/>
<line x1="176.88" y1="513.5" x2="184.08" y2="513.5" stroke="#222" stroke-width="1.2" stroke-linecap="butt"/>
<line x1="194.86" y1="474" x2="202.06" y2="474" stroke="#222" stroke-width="1.2" stroke-linecap="butt"/>
<line x1="216.23" y1="477.8" x2="223.43" y2="477.8" stroke="#222" stroke-width="1.2" stroke-linecap="butt"/>
<line x1="237.92" y1="477.6" x2="245.12" y2="477.6" stroke="#222" stroke-width="1.2" stroke-linecap="butt"/>
<line x1="204.96" y1="500.5" x2="212.16" y2="500.5" stroke="#222" stroke-width="1.2" stroke-linecap="butt"/>
<line x1="227.07" y1="524.7" x2="234.27" y2="524.7" stroke="#222" stroke-width="1.2" stroke-linecap="butt"/>
<line x1="248.73" y1="515.5" x2="255.93" y2="515.5" stroke="#222" stroke-width="1.2" stroke-linecap="butt"/>
<line x1="266.25" y1="458.5" x2="273.45" y2="458.5" stroke="#222" stroke-width="1.2" stroke-linecap="butt"/>
<line x1="277.03" y1="484" x2="284.23" y2="484" stroke="#222" stroke-width="1.2" stroke-linecap="butt"/>
<line x1="287.8" y1="477.6" x2="295" y2="477.6" stroke="#222" stroke-width="1.2" stroke-linecap="butt"/>
<line x1="309.27" y1="473" x2="316.47" y2="473" stroke="#222" stroke-width="1.2" stroke-linecap="butt"/>
<line x1="298.58" y1="512.2" x2="305.78" y2="512.2" stroke="#222" stroke-width="1.2" stroke-linecap="butt"/>
<line x1="319.77" y1="511.5" x2="326.97" y2="511.5" stroke="#222" stroke-width="1.2" stroke-linecap="butt"/>
<circle cx="343.7" cy="462.2" r="1.6" fill="#000000"/>
<text x="350.1" y="465.5" font-size="9.2" text-anchor="start" fill="#111" color="#111">WT</text>
<circle cx="343.7" cy="477.45" r="1.6" fill="#1ec81e"/>
<text x="350.1" y="480.75" font-size="9.2" text-anchor="start" fill="#111" color="#111">Δ<tspan font-style="italic">invG</tspan></text>
<circle cx="343.7" cy="492.7" r="1.6" fill="#ff0000"/>
<text x="350.1" y="496" font-size="9.2" text-anchor="start" fill="#111" color="#111">Δ<tspan font-style="italic">ssaV</tspan></text>
<circle cx="343.7" cy="507.95" r="1.6" fill="#0000ff"/>
<text x="350.1" y="511.25" font-size="9.2" text-anchor="start" fill="#111" color="#111">Δ<tspan font-style="italic">invG</tspan>Δ<tspan font-style="italic">ssaV</tspan></text>
<circle cx="343.7" cy="523.2" r="1.6" fill="#10684a"/>
<text x="350.1" y="526.5" font-size="9.2" text-anchor="start" fill="#111" color="#111">Δ<tspan font-style="italic">sopD2</tspan>Δ<tspan font-style="italic">gtgE</tspan></text>
<circle cx="343.7" cy="538.45" r="1.6" fill="#c4701e"/>
<text x="350.1" y="541.75" font-size="9.2" text-anchor="start" fill="#111" color="#111">Δ<tspan font-style="italic">invG</tspan>Δ<tspan font-style="italic">sopD2</tspan>Δ<tspan font-style="italic">gtgE</tspan></text>
<line x1="482" y1="465.9" x2="482" y2="550.9" stroke="#1a1a1a" stroke-width="1.3" stroke-linecap="butt"/>
<line x1="481.4" y1="550.3" x2="650.6" y2="550.3" stroke="#1a1a1a" stroke-width="1.3" stroke-linecap="butt"/>
<line x1="479.8" y1="466.4" x2="482" y2="466.4" stroke="#1a1a1a" stroke-width="1.1" stroke-linecap="butt"/>
<text transform="translate(479 469.2) scale(0.92 1)" font-size="9.2" text-anchor="end" fill="#111">10<tspan font-size="6.07" dy="-3.6">6</tspan></text>
<line x1="479.8" y1="480.38" x2="482" y2="480.38" stroke="#1a1a1a" stroke-width="1.1" stroke-linecap="butt"/>
<text transform="translate(479 483.18) scale(0.92 1)" font-size="9.2" text-anchor="end" fill="#111">10<tspan font-size="6.07" dy="-3.6">5</tspan></text>
<line x1="479.8" y1="494.37" x2="482" y2="494.37" stroke="#1a1a1a" stroke-width="1.1" stroke-linecap="butt"/>
<text transform="translate(479 497.17) scale(0.92 1)" font-size="9.2" text-anchor="end" fill="#111">10<tspan font-size="6.07" dy="-3.6">4</tspan></text>
<line x1="479.8" y1="508.35" x2="482" y2="508.35" stroke="#1a1a1a" stroke-width="1.1" stroke-linecap="butt"/>
<text transform="translate(479 511.15) scale(0.92 1)" font-size="9.2" text-anchor="end" fill="#111">10<tspan font-size="6.07" dy="-3.6">3</tspan></text>
<line x1="479.8" y1="522.33" x2="482" y2="522.33" stroke="#1a1a1a" stroke-width="1.1" stroke-linecap="butt"/>
<text transform="translate(479 525.13) scale(0.92 1)" font-size="9.2" text-anchor="end" fill="#111">10<tspan font-size="6.07" dy="-3.6">2</tspan></text>
<line x1="479.8" y1="536.32" x2="482" y2="536.32" stroke="#1a1a1a" stroke-width="1.1" stroke-linecap="butt"/>
<text transform="translate(479 539.12) scale(0.92 1)" font-size="9.2" text-anchor="end" fill="#111">10<tspan font-size="6.07" dy="-3.6">1</tspan></text>
<line x1="479.8" y1="550.3" x2="482" y2="550.3" stroke="#1a1a1a" stroke-width="1.1" stroke-linecap="butt"/>
<text transform="translate(479 553.1) scale(0.92 1)" font-size="9.2" text-anchor="end" fill="#111">10<tspan font-size="6.07" dy="-3.6">0</tspan></text>
<line x1="496.4" y1="550.3" x2="496.4" y2="553.3" stroke="#1a1a1a" stroke-width="1.1" stroke-linecap="butt"/>
<line x1="524.4" y1="550.3" x2="524.4" y2="553.3" stroke="#1a1a1a" stroke-width="1.1" stroke-linecap="butt"/>
<line x1="552.4" y1="550.3" x2="552.4" y2="553.3" stroke="#1a1a1a" stroke-width="1.1" stroke-linecap="butt"/>
<line x1="580.4" y1="550.3" x2="580.4" y2="553.3" stroke="#1a1a1a" stroke-width="1.1" stroke-linecap="butt"/>
<line x1="608.4" y1="550.3" x2="608.4" y2="553.3" stroke="#1a1a1a" stroke-width="1.1" stroke-linecap="butt"/>
<line x1="636.4" y1="550.3" x2="636.4" y2="553.3" stroke="#1a1a1a" stroke-width="1.1" stroke-linecap="butt"/>
<text x="566.5" y="459.2" font-size="9.2" text-anchor="middle" font-weight="bold" fill="#000" color="#000">Caecal Tissue</text>
<text x="459.6" y="507" font-size="10.3" text-anchor="middle" fill="#111" color="#111" transform="rotate(-90 459.6 507)">CFU / caecum tissue</text>
<g transform="rotate(-45 502.7 563.1)">
<text x="502.7" y="563.1" font-size="9.3" text-anchor="end" fill="#111">WT</text>
</g>
<g transform="rotate(-45 530.7 563.1)">
<text x="530.7" y="563.1" font-size="9.3" text-anchor="end" fill="#111">Δ<tspan font-style="italic">invG</tspan></text>
</g>
<g transform="rotate(-45 558.7 563.1)">
<text x="558.7" y="563.1" font-size="9.3" text-anchor="end" fill="#111">Δ<tspan font-style="italic">ssaV</tspan></text>
</g>
<g transform="rotate(-45 586.7 563.1)">
<text x="586.7" y="563.1" font-size="9.3" text-anchor="end" fill="#111">Δ<tspan font-style="italic">invG</tspan>Δ<tspan font-style="italic">ssaV</tspan></text>
</g>
<g transform="rotate(-45 614.7 563.1)">
<text x="614.7" y="563.1" font-size="9.3" text-anchor="end" fill="#111">Δ<tspan font-style="italic">sopD2</tspan>Δ<tspan font-style="italic">gtgE</tspan></text>
</g>
<g transform="rotate(-45 642.7 563.1)">
<text x="642.7" y="563.1" font-size="9.3" text-anchor="end" fill="#111">Δ<tspan font-style="italic">invG</tspan>Δ<tspan font-style="italic">sopD2</tspan>Δ<tspan font-style="italic">gtgE</tspan></text>
</g>
<line x1="483" y1="532.4" x2="650" y2="532.4" stroke="#222" stroke-width="1" stroke-dasharray="1 1.25" stroke-linecap="butt"/>
<circle cx="493.1" cy="486" r="2" fill="#000000"/>
<circle cx="500.1" cy="483.9" r="2" fill="#000000"/>
<line x1="487.3" y1="484.8" x2="505.7" y2="484.8" stroke="#1a1a1a" stroke-width="1.3" stroke-linecap="butt"/>
<circle cx="520.9" cy="495.7" r="2" fill="#0000ff"/>
<circle cx="520.9" cy="499.3" r="2" fill="#0000ff"/>
<circle cx="527.6" cy="496.2" r="2" fill="#0000ff"/>
<line x1="515.3" y1="496.4" x2="533.7" y2="496.4" stroke="#1a1a1a" stroke-width="1.3" stroke-linecap="butt"/>
<circle cx="552.4" cy="484.4" r="2" fill="#ff0000"/>
<circle cx="548.9" cy="504.1" r="2" fill="#ff0000"/>
<circle cx="555.6" cy="502.7" r="2" fill="#ff0000"/>
<line x1="543.2" y1="502.3" x2="561.6" y2="502.3" stroke="#1a1a1a" stroke-width="1.3" stroke-linecap="butt"/>
<circle cx="576.8" cy="511.2" r="2" fill="#1ec81e"/>
<circle cx="583.8" cy="512.5" r="2" fill="#1ec81e"/>
<circle cx="580.2" cy="519.7" r="2" fill="#1ec81e"/>
<line x1="571.1" y1="512.5" x2="589.7" y2="512.5" stroke="#1a1a1a" stroke-width="1.3" stroke-linecap="butt"/>
<circle cx="608.3" cy="501.3" r="2" fill="#10684a"/>
<circle cx="604.9" cy="510.2" r="2" fill="#10684a"/>
<circle cx="611.7" cy="508.3" r="2" fill="#10684a"/>
<line x1="599.2" y1="508.3" x2="617.8" y2="508.3" stroke="#1a1a1a" stroke-width="1.3" stroke-linecap="butt"/>
<circle cx="632.8" cy="517.8" r="2" fill="#c4701e"/>
<circle cx="632.8" cy="522.5" r="2" fill="#c4701e"/>
<circle cx="639.8" cy="520.3" r="2" fill="#c4701e"/>
<line x1="627.1" y1="520.3" x2="645.7" y2="520.3" stroke="#1a1a1a" stroke-width="1.3" stroke-linecap="butt"/>
<defs><pattern id="hatchO" patternUnits="userSpaceOnUse" width="3.6" height="3.6" patternTransform="rotate(35)"><rect width="3.6" height="3.6" fill="#ff8c1a"/><rect width="1.25" height="3.6" fill="#ffffff"/></pattern><pattern id="hatchB" patternUnits="userSpaceOnUse" width="3.6" height="3.6" patternTransform="rotate(-35)"><rect width="3.6" height="3.6" fill="#1a1aff"/><rect width="1.25" height="3.6" fill="#ffffff"/></pattern></defs>
<line x1="40.8" y1="617.3" x2="40.8" y2="723" stroke="#1a1a1a" stroke-width="1.3" stroke-linecap="butt"/>
<line x1="40.2" y1="722.4" x2="362.6" y2="722.4" stroke="#1a1a1a" stroke-width="1.3" stroke-linecap="butt"/>
<line x1="36.2" y1="722.4" x2="40.8" y2="722.4" stroke="#1a1a1a" stroke-width="1.1" stroke-linecap="butt"/>
<text x="34.6" y="725.8" font-size="9.4" text-anchor="end" fill="#111" color="#111">0</text>
<line x1="36.2" y1="682.3" x2="40.8" y2="682.3" stroke="#1a1a1a" stroke-width="1.1" stroke-linecap="butt"/>
<text x="34.6" y="685.7" font-size="9.4" text-anchor="end" fill="#111" color="#111">5</text>
<line x1="36.2" y1="642.2" x2="40.8" y2="642.2" stroke="#1a1a1a" stroke-width="1.1" stroke-linecap="butt"/>
<text x="34.6" y="645.6" font-size="9.4" text-anchor="end" fill="#111" color="#111">10</text>
<text x="18.6" y="669.8" font-size="9.3" text-anchor="middle" fill="#111" color="#111" transform="rotate(-90 18.6 669.8)">Pathology Score of Caecum</text>
<text x="201.2" y="615.8" font-size="9.2" text-anchor="middle" font-weight="bold" fill="#000" color="#000">Caecal Pathology</text>
<rect x="51.65" y="638.64" width="4.4" height="25.45" fill="url(#hatchO)" stroke="#ff8c1a" stroke-width="0.9"/>
<rect x="51.75" y="664.64" width="4.2" height="21.42" fill="#ffffff" stroke="#111" stroke-width="1.1"/>
<rect x="51.65" y="686.52" width="4.4" height="13.62" fill="url(#hatchB)" stroke="#1a1aff" stroke-width="0.9"/>
<rect x="51.2" y="700.59" width="5.3" height="21.81" fill="#000"/>
<rect x="59.35" y="644.57" width="4.4" height="27.7" fill="url(#hatchO)" stroke="#ff8c1a" stroke-width="0.9"/>
<rect x="59.45" y="672.82" width="4.2" height="15.09" fill="#ffffff" stroke="#111" stroke-width="1.1"/>
<rect x="59.35" y="688.36" width="4.4" height="15.62" fill="url(#hatchB)" stroke="#1a1aff" stroke-width="0.9"/>
<rect x="58.9" y="704.44" width="5.3" height="17.96" fill="#000"/>
<rect x="66.95" y="644.57" width="4.4" height="29.71" fill="url(#hatchO)" stroke="#ff8c1a" stroke-width="0.9"/>
<rect x="67.05" y="674.83" width="4.2" height="19.18" fill="#ffffff" stroke="#111" stroke-width="1.1"/>
<rect x="66.95" y="694.46" width="4.4" height="15.78" fill="url(#hatchB)" stroke="#1a1aff" stroke-width="0.9"/>
<rect x="66.5" y="710.69" width="5.3" height="11.71" fill="#000"/>
<rect x="74.65" y="630.38" width="4.4" height="31.87" fill="url(#hatchO)" stroke="#ff8c1a" stroke-width="0.9"/>
<rect x="74.75" y="662.8" width="4.2" height="23.27" fill="#ffffff" stroke="#111" stroke-width="1.1"/>
<rect x="74.65" y="686.52" width="4.4" height="15.86" fill="url(#hatchB)" stroke="#1a1aff" stroke-width="0.9"/>
<rect x="74.2" y="702.83" width="5.3" height="19.57" fill="#000"/>
<rect x="82.55" y="628.45" width="4.4" height="31.63" fill="url(#hatchO)" stroke="#ff8c1a" stroke-width="0.9"/>
<rect x="82.65" y="660.63" width="4.2" height="21.34" fill="#ffffff" stroke="#111" stroke-width="1.1"/>
<rect x="82.55" y="682.43" width="4.4" height="15.62" fill="url(#hatchB)" stroke="#1a1aff" stroke-width="0.9"/>
<rect x="82.1" y="698.5" width="5.3" height="23.9" fill="#000"/>
<rect x="105.95" y="668.63" width="4.4" height="15.83" fill="url(#hatchO)" stroke="#ff8c1a" stroke-width="0.9"/>
<rect x="106.05" y="685.02" width="4.2" height="11" fill="#ffffff" stroke="#111" stroke-width="1.1"/>
<rect x="105.95" y="696.46" width="4.4" height="8" fill="url(#hatchB)" stroke="#1a1aff" stroke-width="0.9"/>
<rect x="105.5" y="704.92" width="5.3" height="17.48" fill="#000"/>
<rect x="113.85" y="658.69" width="4.4" height="15.51" fill="url(#hatchO)" stroke="#ff8c1a" stroke-width="0.9"/>
<rect x="113.95" y="674.75" width="4.2" height="15.33" fill="#ffffff" stroke="#111" stroke-width="1.1"/>
<rect x="113.85" y="690.53" width="4.4" height="12.01" fill="url(#hatchB)" stroke="#1a1aff" stroke-width="0.9"/>
<rect x="113.4" y="702.99" width="5.3" height="19.41" fill="#000"/>
<rect x="121.75" y="672.73" width="4.4" height="15.67" fill="url(#hatchO)" stroke="#ff8c1a" stroke-width="0.9"/>
<rect x="121.85" y="688.95" width="4.2" height="15.57" fill="#ffffff" stroke="#111" stroke-width="1.1"/>
<rect x="121.75" y="704.97" width="4.4" height="9.29" fill="url(#hatchB)" stroke="#1a1aff" stroke-width="0.9"/>
<rect x="121.3" y="714.7" width="5.3" height="7.7" fill="#000"/>
<rect x="129.45" y="660.61" width="4.4" height="17.92" fill="url(#hatchO)" stroke="#ff8c1a" stroke-width="0.9"/>
<rect x="129.55" y="679.08" width="4.2" height="19.5" fill="#ffffff" stroke="#111" stroke-width="1.1"/>
<rect x="129.45" y="699.03" width="4.4" height="7.12" fill="url(#hatchB)" stroke="#1a1aff" stroke-width="0.9"/>
<rect x="129" y="706.6" width="5.3" height="15.8" fill="#000"/>
<rect x="137.35" y="666.71" width="4.4" height="15.59" fill="url(#hatchO)" stroke="#ff8c1a" stroke-width="0.9"/>
<rect x="137.45" y="682.85" width="4.2" height="17.66" fill="#ffffff" stroke="#111" stroke-width="1.1"/>
<rect x="137.35" y="700.96" width="4.4" height="3.51" fill="url(#hatchB)" stroke="#1a1aff" stroke-width="0.9"/>
<rect x="136.9" y="704.92" width="5.3" height="17.48" fill="#000"/>
<rect x="145.05" y="664.79" width="4.4" height="21.69" fill="url(#hatchO)" stroke="#ff8c1a" stroke-width="0.9"/>
<rect x="145.15" y="687.02" width="4.2" height="17.5" fill="#ffffff" stroke="#111" stroke-width="1.1"/>
<rect x="145.05" y="704.97" width="4.4" height="3.35" fill="url(#hatchB)" stroke="#1a1aff" stroke-width="0.9"/>
<rect x="144.6" y="708.77" width="5.3" height="13.63" fill="#000"/>
<rect x="168.45" y="664.79" width="4.4" height="23.61" fill="url(#hatchO)" stroke="#ff8c1a" stroke-width="0.9"/>
<rect x="168.55" y="688.95" width="4.2" height="15.57" fill="#ffffff" stroke="#111" stroke-width="1.1"/>
<rect x="168.45" y="704.97" width="4.4" height="9.29" fill="url(#hatchB)" stroke="#1a1aff" stroke-width="0.9"/>
<rect x="168" y="714.7" width="5.3" height="7.7" fill="#000"/>
<rect x="176.05" y="674.65" width="4.4" height="15.99" fill="url(#hatchO)" stroke="#ff8c1a" stroke-width="0.9"/>
<rect x="176.15" y="691.19" width="4.2" height="13.57" fill="#ffffff" stroke="#111" stroke-width="1.1"/>
<rect x="176.05" y="705.21" width="4.4" height="9.04" fill="url(#hatchB)" stroke="#1a1aff" stroke-width="0.9"/>
<rect x="175.6" y="714.7" width="5.3" height="7.7" fill="#000"/>
<rect x="183.75" y="666.71" width="4.4" height="19.76" fill="url(#hatchO)" stroke="#ff8c1a" stroke-width="0.9"/>
<rect x="183.85" y="687.02" width="4.2" height="15.33" fill="#ffffff" stroke="#111" stroke-width="1.1"/>
<rect x="183.75" y="702.8" width="4.4" height="9.69" fill="url(#hatchB)" stroke="#1a1aff" stroke-width="0.9"/>
<rect x="183.3" y="712.94" width="5.3" height="9.46" fill="#000"/>
<rect x="191.55" y="660.61" width="4.4" height="18" fill="url(#hatchO)" stroke="#ff8c1a" stroke-width="0.9"/>
<rect x="191.65" y="679.16" width="4.2" height="15.01" fill="#ffffff" stroke="#111" stroke-width="1.1"/>
<rect x="191.55" y="694.62" width="4.4" height="11.85" fill="url(#hatchB)" stroke="#1a1aff" stroke-width="0.9"/>
<rect x="191.1" y="706.92" width="5.3" height="15.48" fill="#000"/>
<rect x="214.55" y="700.88" width="4.4" height="8.21" fill="url(#hatchO)" stroke="#ff8c1a" stroke-width="0.9"/>
<rect x="214.65" y="709.64" width="4.2" height="0.49" fill="#ffffff" stroke="#111" stroke-width="1.1"/>
<rect x="214.55" y="710.58" width="4.4" height="7.76" fill="url(#hatchB)" stroke="#1a1aff" stroke-width="0.9"/>
<rect x="214.1" y="718.79" width="5.3" height="3.61" fill="#000"/>
<rect x="222.45" y="702.8" width="4.4" height="7.81" fill="url(#hatchO)" stroke="#ff8c1a" stroke-width="0.9"/>
<rect x="222.55" y="711.16" width="4.2" height="3.06" fill="#ffffff" stroke="#111" stroke-width="1.1"/>
<rect x="222.45" y="714.67" width="4.4" height="3.67" fill="url(#hatchB)" stroke="#1a1aff" stroke-width="0.9"/>
<rect x="222" y="718.79" width="5.3" height="3.61" fill="#000"/>
<rect x="230.35" y="704.97" width="4.4" height="7.73" fill="url(#hatchO)" stroke="#ff8c1a" stroke-width="0.9"/>
<rect x="230.45" y="713.25" width="4.2" height="0.49" fill="#ffffff" stroke="#111" stroke-width="1.1"/>
<rect x="230.35" y="714.19" width="4.4" height="3.99" fill="url(#hatchB)" stroke="#1a1aff" stroke-width="0.9"/>
<rect x="229.9" y="718.63" width="5.3" height="3.77" fill="#000"/>
<rect x="238.25" y="700.88" width="4.4" height="7.73" fill="url(#hatchO)" stroke="#ff8c1a" stroke-width="0.9"/>
<rect x="238.35" y="709.16" width="4.2" height="3.54" fill="#ffffff" stroke="#111" stroke-width="1.1"/>
<rect x="238.25" y="713.15" width="4.4" height="5.2" fill="url(#hatchB)" stroke="#1a1aff" stroke-width="0.9"/>
<rect x="237.8" y="718.79" width="5.3" height="3.61" fill="#000"/>
<rect x="245.95" y="694.78" width="4.4" height="12.06" fill="url(#hatchO)" stroke="#ff8c1a" stroke-width="0.9"/>
<rect x="246.05" y="707.39" width="4.2" height="6.83" fill="#ffffff" stroke="#111" stroke-width="1.1"/>
<rect x="245.95" y="714.67" width="4.4" height="3.67" fill="url(#hatchB)" stroke="#1a1aff" stroke-width="0.9"/>
<rect x="245.5" y="718.79" width="5.3" height="3.61" fill="#000"/>
<rect x="269.45" y="658.69" width="4.4" height="19.68" fill="url(#hatchO)" stroke="#ff8c1a" stroke-width="0.9"/>
<rect x="269.55" y="678.92" width="4.2" height="13.4" fill="#ffffff" stroke="#111" stroke-width="1.1"/>
<rect x="269.45" y="692.77" width="4.4" height="11.53" fill="url(#hatchB)" stroke="#1a1aff" stroke-width="0.9"/>
<rect x="269" y="704.76" width="5.3" height="17.64" fill="#000"/>
<rect x="276.85" y="666.87" width="4.4" height="15.67" fill="url(#hatchO)" stroke="#ff8c1a" stroke-width="0.9"/>
<rect x="276.95" y="683.09" width="4.2" height="11.08" fill="#ffffff" stroke="#111" stroke-width="1.1"/>
<rect x="276.85" y="694.62" width="4.4" height="11.85" fill="url(#hatchB)" stroke="#1a1aff" stroke-width="0.9"/>
<rect x="276.4" y="706.92" width="5.3" height="15.48" fill="#000"/>
<rect x="284.55" y="664.62" width="4.4" height="15.67" fill="url(#hatchO)" stroke="#ff8c1a" stroke-width="0.9"/>
<rect x="284.65" y="680.84" width="4.2" height="13.32" fill="#ffffff" stroke="#111" stroke-width="1.1"/>
<rect x="284.55" y="694.62" width="4.4" height="11.85" fill="url(#hatchB)" stroke="#1a1aff" stroke-width="0.9"/>
<rect x="284.1" y="706.92" width="5.3" height="15.48" fill="#000"/>
<rect x="292.55" y="668.63" width="4.4" height="15.59" fill="url(#hatchO)" stroke="#ff8c1a" stroke-width="0.9"/>
<rect x="292.65" y="684.77" width="4.2" height="9.39" fill="#ffffff" stroke="#111" stroke-width="1.1"/>
<rect x="292.55" y="694.62" width="4.4" height="9.69" fill="url(#hatchB)" stroke="#1a1aff" stroke-width="0.9"/>
<rect x="292.1" y="704.76" width="5.3" height="17.64" fill="#000"/>
<rect x="300.35" y="654.76" width="4.4" height="17.51" fill="url(#hatchO)" stroke="#ff8c1a" stroke-width="0.9"/>
<rect x="300.45" y="672.82" width="4.2" height="15.09" fill="#ffffff" stroke="#111" stroke-width="1.1"/>
<rect x="300.35" y="688.36" width="4.4" height="18.11" fill="url(#hatchB)" stroke="#1a1aff" stroke-width="0.9"/>
<rect x="299.9" y="706.92" width="5.3" height="15.48" fill="#000"/>
<rect x="308.15" y="664.62" width="4.4" height="17.92" fill="url(#hatchO)" stroke="#ff8c1a" stroke-width="0.9"/>
<rect x="308.25" y="683.09" width="4.2" height="12.84" fill="#ffffff" stroke="#111" stroke-width="1.1"/>
<rect x="308.15" y="696.38" width="4.4" height="11.45" fill="url(#hatchB)" stroke="#1a1aff" stroke-width="0.9"/>
<rect x="307.7" y="708.28" width="5.3" height="14.12" fill="#000"/>
<rect x="331.55" y="700.96" width="4.4" height="5.73" fill="url(#hatchO)" stroke="#ff8c1a" stroke-width="0.9"/>
<rect x="331.65" y="707.23" width="4.2" height="7.47" fill="#ffffff" stroke="#111" stroke-width="1.1"/>
<rect x="331.55" y="715.15" width="4.4" height="3.43" fill="url(#hatchB)" stroke="#1a1aff" stroke-width="0.9"/>
<rect x="331.1" y="719.03" width="5.3" height="3.37" fill="#000"/>
<rect x="339.35" y="694.62" width="4.4" height="8.37" fill="url(#hatchO)" stroke="#ff8c1a" stroke-width="0.9"/>
<rect x="339.45" y="703.54" width="4.2" height="6.99" fill="#ffffff" stroke="#111" stroke-width="1.1"/>
<rect x="339.35" y="710.98" width="4.4" height="3.43" fill="url(#hatchB)" stroke="#1a1aff" stroke-width="0.9"/>
<rect x="338.9" y="714.86" width="5.3" height="7.54" fill="#000"/>
<rect x="346.75" y="694.62" width="4.4" height="12.06" fill="url(#hatchO)" stroke="#ff8c1a" stroke-width="0.9"/>
<rect x="346.85" y="707.23" width="4.2" height="7.47" fill="#ffffff" stroke="#111" stroke-width="1.1"/>
<rect x="346.75" y="715.15" width="4.4" height="3.43" fill="url(#hatchB)" stroke="#1a1aff" stroke-width="0.9"/>
<rect x="346.3" y="719.03" width="5.3" height="3.37" fill="#000"/>
<rect x="354.65" y="705.05" width="4.4" height="7.89" fill="url(#hatchO)" stroke="#ff8c1a" stroke-width="0.9"/>
<rect x="354.75" y="713.49" width="4.2" height="6.99" fill="#ffffff" stroke="#111" stroke-width="1.1"/>
<rect x="354.65" y="720.93" width="4.4" height="1.02" fill="url(#hatchB)" stroke="#1a1aff" stroke-width="0.9"/>
<line x1="104" y1="643" x2="146.8" y2="643" stroke="#222" stroke-width="1.3" stroke-linecap="butt"/>
<path d="M124.25 635.4L124.25 640.6M122 636.7L126.5 639.3M126.5 636.7L122 639.3" stroke="#000" stroke-width="1.05" stroke-linecap="butt" fill="none"/>
<path d="M130.55 635.4L130.55 640.6M128.3 636.7L132.8 639.3M132.8 636.7L128.3 639.3" stroke="#000" stroke-width="1.05" stroke-linecap="butt" fill="none"/>
<line x1="168" y1="643" x2="196.8" y2="643" stroke="#222" stroke-width="1.3" stroke-linecap="butt"/>
<path d="M178.35 635.4L178.35 640.6M176.1 636.7L180.6 639.3M180.6 636.7L176.1 639.3" stroke="#000" stroke-width="1.05" stroke-linecap="butt" fill="none"/>
<path d="M184.65 635.4L184.65 640.6M182.4 636.7L186.9 639.3M186.9 636.7L182.4 639.3" stroke="#000" stroke-width="1.05" stroke-linecap="butt" fill="none"/>
<line x1="214.1" y1="643" x2="250.7" y2="643" stroke="#222" stroke-width="1.3" stroke-linecap="butt"/>
<path d="M229.25 635.4L229.25 640.6M227 636.7L231.5 639.3M231.5 636.7L227 639.3" stroke="#000" stroke-width="1.05" stroke-linecap="butt" fill="none"/>
<path d="M235.55 635.4L235.55 640.6M233.3 636.7L237.8 639.3M237.8 636.7L233.3 639.3" stroke="#000" stroke-width="1.05" stroke-linecap="butt" fill="none"/>
<line x1="268.8" y1="643" x2="309.6" y2="643" stroke="#222" stroke-width="1.3" stroke-linecap="butt"/>
<path d="M284.85 635.4L284.85 640.6M282.6 636.7L287.1 639.3M287.1 636.7L282.6 639.3" stroke="#000" stroke-width="1.05" stroke-linecap="butt" fill="none"/>
<path d="M291.15 635.4L291.15 640.6M288.9 636.7L293.4 639.3M293.4 636.7L288.9 639.3" stroke="#000" stroke-width="1.05" stroke-linecap="butt" fill="none"/>
<line x1="327.2" y1="643" x2="355.5" y2="643" stroke="#222" stroke-width="1.3" stroke-linecap="butt"/>
<path d="M337.55 635.4L337.55 640.6M335.3 636.7L339.8 639.3M339.8 636.7L335.3 639.3" stroke="#000" stroke-width="1.05" stroke-linecap="butt" fill="none"/>
<path d="M343.85 635.4L343.85 640.6M341.6 636.7L346.1 639.3M346.1 636.7L341.6 639.3" stroke="#000" stroke-width="1.05" stroke-linecap="butt" fill="none"/>
<text x="69" y="735" font-size="9.3" text-anchor="middle" fill="#111" color="#111">WT</text>
<text x="128.5" y="735" font-size="9.3" text-anchor="middle" fill="#111" color="#111">Δ<tspan font-style="italic">invG</tspan></text>
<text x="184" y="735" font-size="9.3" text-anchor="middle" fill="#111" color="#111">Δ<tspan font-style="italic">ssaV</tspan></text>
<text x="219.7" y="735" font-size="9.3" text-anchor="start" fill="#111" color="#111">Δ<tspan font-style="italic">invG</tspan></text>
<text x="219.7" y="747.3" font-size="9.3" text-anchor="start" fill="#111" color="#111">Δ<tspan font-style="italic">ssaV</tspan></text>
<text x="274.8" y="735" font-size="9.3" text-anchor="start" fill="#111" color="#111">Δ<tspan font-style="italic">sopD2</tspan></text>
<text x="274.8" y="747.3" font-size="9.3" text-anchor="start" fill="#111" color="#111">Δ<tspan font-style="italic">gtgE</tspan></text>
<text x="328.6" y="735" font-size="9.3" text-anchor="start" fill="#111" color="#111">Δ<tspan font-style="italic">invG</tspan></text>
<text x="328.6" y="747.3" font-size="9.3" text-anchor="start" fill="#111" color="#111">Δ<tspan font-style="italic">sopD2</tspan></text>
<text x="328.6" y="759.6" font-size="9.3" text-anchor="start" fill="#111" color="#111">Δ<tspan font-style="italic">gtgE</tspan></text>
<rect x="372.8" y="640.8" width="11.4" height="5.6" fill="#000"/>
<text x="390.6" y="647" font-size="9.5" text-anchor="start" fill="#111" color="#111">Edema</text>
<rect x="373.2" y="655.2" width="10.6" height="4.8" fill="url(#hatchB)" stroke="#1a1aff" stroke-width="0.8"/>
<text x="390.6" y="661" font-size="9.5" text-anchor="start" fill="#111" color="#111">Goblet Cells</text>
<rect x="373.4" y="669.3" width="10.2" height="4.6" fill="#fff" stroke="#111" stroke-width="1.1"/>
<text x="390.6" y="675" font-size="9.5" text-anchor="start" fill="#111" color="#111">Epithelium</text>
<rect x="373.2" y="683.2" width="10.6" height="4.8" fill="url(#hatchO)" stroke="#ff8c1a" stroke-width="0.8"/>
<text x="390.6" y="689" font-size="9.5" text-anchor="start" fill="#111" color="#111">PMNs</text>
<defs>
<clipPath id="cp0"><rect x="0" y="786.4" width="110.5" height="110.3"/></clipPath>
<clipPath id="cp1"><rect x="115" y="786.6" width="110.6" height="110.4"/></clipPath>
<clipPath id="cp2"><rect x="230.3" y="786.7" width="109.7" height="110.1"/></clipPath>
<clipPath id="cp3"><rect x="344.8" y="786.7" width="110.2" height="109.8"/></clipPath>
<clipPath id="cp4"><rect x="459.2" y="786.7" width="110.8" height="110.1"/></clipPath>
<clipPath id="cp5"><rect x="574.3" y="786.7" width="110.3" height="110.3"/></clipPath>
<filter id="spP" x="0" y="0" width="1" height="1" color-interpolation-filters="sRGB"><feTurbulence type="fractalNoise" baseFrequency="0.4" numOctaves="1" seed="2" result="n"/><feColorMatrix in="n" type="matrix" values="0 0 0 0 0.863  0 0 0 0 0.353  0 0 0 0 0.533  9.00 0 0 0 -5.45"/><feGaussianBlur stdDeviation="0.3"/><feComposite operator="in" in2="SourceGraphic"/></filter>
<filter id="spP2" x="0" y="0" width="1" height="1" color-interpolation-filters="sRGB"><feTurbulence type="fractalNoise" baseFrequency="0.8" numOctaves="1" seed="5" result="n"/><feColorMatrix in="n" type="matrix" values="0 0 0 0 0.878  0 0 0 0 0.478  0 0 0 0 0.612  9.00 0 0 0 -5.60"/><feGaussianBlur stdDeviation="0.3"/><feComposite operator="in" in2="SourceGraphic"/></filter>
<filter id="spL" x="0" y="0" width="1" height="1" color-interpolation-filters="sRGB"><feTurbulence type="fractalNoise" baseFrequency="0.7" numOctaves="1" seed="11" result="n"/><feColorMatrix in="n" type="matrix" values="0 0 0 0 0.898  0 0 0 0 0.541  0 0 0 0 0.651  10.00 0 0 0 -6.00"/><feComposite operator="in" in2="SourceGraphic"/></filter>
<filter id="dkS" x="0" y="0" width="1" height="1" color-interpolation-filters="sRGB"><feTurbulence type="fractalNoise" baseFrequency="0.5" numOctaves="1" seed="4" result="n"/><feColorMatrix in="n" type="matrix" values="0 0 0 0 0.478  0 0 0 0 0.078  0 0 0 0 0.282  10.00 0 0 0 -5.60"/><feComposite operator="in" in2="SourceGraphic"/></filter>
<filter id="ltS" x="0" y="0" width="1" height="1" color-interpolation-filters="sRGB"><feTurbulence type="fractalNoise" baseFrequency="0.55" numOctaves="1" seed="9" result="n"/><feColorMatrix in="n" type="matrix" values="0 0 0 0 0.949  0 0 0 0 0.659  0 0 0 0 0.769  10.00 0 0 0 -5.40"/><feComposite operator="in" in2="SourceGraphic"/></filter>
<filter id="blob" x="0" y="0" width="1" height="1" color-interpolation-filters="sRGB"><feTurbulence type="fractalNoise" baseFrequency="0.09" numOctaves="2" seed="17" result="n"/><feColorMatrix in="n" type="matrix" values="0 0 0 0 0.557  0 0 0 0 0.118  0 0 0 0 0.361  6.00 0 0 0 -3.20"/><feComposite operator="in" in2="SourceGraphic"/></filter>
<filter id="blobL" x="0" y="0" width="1" height="1" color-interpolation-filters="sRGB"><feTurbulence type="fractalNoise" baseFrequency="0.08" numOctaves="2" seed="23" result="n"/><feColorMatrix in="n" type="matrix" values="0 0 0 0 0.910  0 0 0 0 0.565  0 0 0 0 0.706  6.00 0 0 0 -3.20"/><feComposite operator="in" in2="SourceGraphic"/></filter>
<filter id="blobW" x="0" y="0" width="1" height="1" color-interpolation-filters="sRGB"><feTurbulence type="fractalNoise" baseFrequency="0.07" numOctaves="2" seed="31" result="n"/><feColorMatrix in="n" type="matrix" values="0 0 0 0 0.902  0 0 0 0 0.839  0 0 0 0 0.863  7.00 0 0 0 -3.60"/><feComposite operator="in" in2="SourceGraphic"/></filter>
<filter id="blobM" x="0" y="0" width="1" height="1" color-interpolation-filters="sRGB"><feTurbulence type="fractalNoise" baseFrequency="0.1" numOctaves="2" seed="41" result="n"/><feColorMatrix in="n" type="matrix" values="0 0 0 0 0.659  0 0 0 0 0.376  0 0 0 0 0.557  6.00 0 0 0 -3.30"/><feComposite operator="in" in2="SourceGraphic"/></filter>
<pattern id="cryptP" patternUnits="userSpaceOnUse" width="10" height="8.5" patternTransform="rotate(-25)"><ellipse cx="5" cy="4.25" rx="4.0" ry="3.2" fill="none" stroke="#d8609a" stroke-width="1.0"/><ellipse cx="5" cy="4.25" rx="1.4" ry="1.0" fill="#e27aac"/></pattern>
<pattern id="stripeP" patternUnits="userSpaceOnUse" width="5" height="40" patternTransform="rotate(8)"><rect x="0" y="0" width="1.1" height="40" fill="#d0609a"/><rect x="2.6" y="0" width="0.8" height="40" fill="#80184c"/></pattern>
</defs>
<g clip-path="url(#cp0)">
<rect x="0" y="786.4" width="110.5" height="110.3" fill="#eed6c0"/>
<polygon points="0,786.4 110.5,786.4 110.5,896.7 0,896.7" fill="#fff" opacity="0.9" filter="url(#spP)"/>
<polygon points="0,786.4 110.5,786.4 110.5,896.7 0,896.7" fill="#fff" opacity="0.6" filter="url(#spP2)"/>
<polygon points="0,786 84,786 78,793 72,802 64,814 55,824 47,830 34,835 25,838 17,844 8,847 0,849" fill="#e0609a"/>
<polygon points="0,786 84,786 78,793 72,802 64,814 55,824 47,830 34,835 25,838 17,844 8,847 0,849" fill="#fff" opacity="0.15" filter="url(#blob)"/>
<polygon points="0,786 84,786 78,793 72,802 64,814 55,824 47,830 34,835 25,838 17,844 8,847 0,849" fill="#fff" opacity="0.2" filter="url(#dkS)"/>
<polygon points="0,786 84,786 78,793 72,802 64,814 55,824 47,830 34,835 25,838 17,844 8,847 0,849" fill="#fff" opacity="0.8" filter="url(#ltS)"/>
<polygon points="0,786 60,786 40,790 15,793 0,796" fill="#b01848" opacity="0.8"/>
<polygon points="84,786 111,786 111,812 98,806 80,800" fill="#e6a0b4" opacity="0.45"/>
<polygon points="0,849 17,844 34,835 47,830 40,845 20,856 0,862" fill="#e294b0" opacity="0.55"/>
<polygon points="30,897 42,891 55,887 67,884 79,877 89,869 97,861 104,854 111,848.5 111,860.6 104,865.6 97,870.6 87,879 75.5,887.4 64,892.5 50,897" fill="#e0406f"/>
<polygon points="30,897 42,891 55,887 67,884 79,877 89,869 97,861 104,854 111,848.5 111,860.6 104,865.6 97,870.6 87,879 75.5,887.4 64,892.5 50,897" fill="#fff" opacity="0.5" filter="url(#ltS)"/>
<polygon points="50,897 64,892.5 75.5,887.4 87,879 97,870.6 104,865.6 111,860.6 111,897" fill="#ebd5c2"/>
<text x="57" y="866.5" font-size="8.2" text-anchor="start" fill="#262626" color="#262626">S.E.</text>
<line x1="93.5" y1="893.2" x2="105.5" y2="893.2" stroke="#111" stroke-width="0.7" stroke-linecap="butt"/>
<line x1="93.5" y1="891.7" x2="93.5" y2="893.6" stroke="#111" stroke-width="0.5" stroke-linecap="butt"/>
<line x1="105.5" y1="891.7" x2="105.5" y2="893.6" stroke="#111" stroke-width="0.5" stroke-linecap="butt"/>
<text x="99.5" y="892.5" font-size="3" text-anchor="middle" font-weight="bold" fill="#111" color="#111">100 µm</text>
</g>
<rect x="0.5" y="786.9" width="109.5" height="109.3" fill="none" stroke="#6d6767" stroke-width="1"/>
<g clip-path="url(#cp1)">
<rect x="115" y="786.6" width="110.6" height="110.4" fill="#eed6c0"/>
<polygon points="115,830 200,800 226,790 226,897 115,897" fill="#fff" opacity="0.35" filter="url(#spP)"/>
<polygon points="115,792 117.5,791 122.8,790.3 127.1,793.8 131.5,799.9 133.3,805.1 138.5,805.1 142.9,806.9 148.2,810.4 150.8,813.9 154.3,817.4 156,814.8 157.8,806.9 158.7,798.1 159.1,786.6 204,786.6 203.5,791.7 202.6,801.8 199.2,818.6 192.5,838.7 185.8,848.8 179.1,853.8 168,854.5 160.2,854.5 147,852.9 140.3,845 135.9,841 131.5,837.5 125.4,832.3 119.3,828.8 115,826.2" fill="#b4306e"/>
<polygon points="115,792 117.5,791 122.8,790.3 127.1,793.8 131.5,799.9 133.3,805.1 138.5,805.1 142.9,806.9 148.2,810.4 150.8,813.9 154.3,817.4 156,814.8 157.8,806.9 158.7,798.1 159.1,786.6 204,786.6 203.5,791.7 202.6,801.8 199.2,818.6 192.5,838.7 185.8,848.8 179.1,853.8 168,854.5 160.2,854.5 147,852.9 140.3,845 135.9,841 131.5,837.5 125.4,832.3 119.3,828.8 115,826.2" fill="#fff" opacity="0.4" filter="url(#blob)"/>
<polygon points="115,792 117.5,791 122.8,790.3 127.1,793.8 131.5,799.9 133.3,805.1 138.5,805.1 142.9,806.9 148.2,810.4 150.8,813.9 154.3,817.4 156,814.8 157.8,806.9 158.7,798.1 159.1,786.6 204,786.6 203.5,791.7 202.6,801.8 199.2,818.6 192.5,838.7 185.8,848.8 179.1,853.8 168,854.5 160.2,854.5 147,852.9 140.3,845 135.9,841 131.5,837.5 125.4,832.3 119.3,828.8 115,826.2" fill="url(#cryptP)" opacity="0.55"/>
<polygon points="115,792 117.5,791 122.8,790.3 127.1,793.8 131.5,799.9 133.3,805.1 138.5,805.1 142.9,806.9 148.2,810.4 150.8,813.9 154.3,817.4 156,814.8 157.8,806.9 158.7,798.1 159.1,786.6 204,786.6 203.5,791.7 202.6,801.8 199.2,818.6 192.5,838.7 185.8,848.8 179.1,853.8 168,854.5 160.2,854.5 147,852.9 140.3,845 135.9,841 131.5,837.5 125.4,832.3 119.3,828.8 115,826.2" fill="#fff" opacity="0.35" filter="url(#dkS)"/>
<polygon points="204,786.6 226,786.6 226,800 215,797 206,796" fill="#dc6a9c" opacity="0.75"/>
<polygon points="126,897 128.8,896.6 145.6,887.3 162.3,880.6 179.1,872.2 192.5,862.2 202.6,852.1 212.7,840.4 221.1,826.9 224.4,810.2 226,806 226,848.8 224.4,848.8 216,855.5 207.6,863.9 195.9,875.6 182.5,882.3 167.4,889 150.6,896.6 150,897" fill="#dc3a78"/>
<polygon points="126,897 128.8,896.6 145.6,887.3 162.3,880.6 179.1,872.2 192.5,862.2 202.6,852.1 212.7,840.4 221.1,826.9 224.4,810.2 226,806 226,848.8 224.4,848.8 216,855.5 207.6,863.9 195.9,875.6 182.5,882.3 167.4,889 150.6,896.6 150,897" fill="#fff" opacity="0.3" filter="url(#dkS)"/>
<polygon points="126,897 128.8,896.6 145.6,887.3 162.3,880.6 179.1,872.2 192.5,862.2 202.6,852.1 212.7,840.4 221.1,826.9 224.4,810.2 226,806 226,848.8 224.4,848.8 216,855.5 207.6,863.9 195.9,875.6 182.5,882.3 167.4,889 150.6,896.6 150,897" fill="#fff" opacity="0.45" filter="url(#ltS)"/>
<polygon points="150,897 150.6,896.6 167.4,889 182.5,882.3 195.9,875.6 207.6,863.9 216,855.5 224.4,848.8 226,848.8 226,897" fill="#eddacd"/>
<text x="133.2" y="801.5" font-size="8.2" text-anchor="start" fill="#262626" color="#262626">Lu.</text>
<text x="119.8" y="875.2" font-size="8.2" text-anchor="start" fill="#262626" color="#262626">S.E.</text>
<line x1="208.5" y1="893.2" x2="220.5" y2="893.2" stroke="#111" stroke-width="0.7" stroke-linecap="butt"/>
<line x1="208.5" y1="891.7" x2="208.5" y2="893.6" stroke="#111" stroke-width="0.5" stroke-linecap="butt"/>
<line x1="220.5" y1="891.7" x2="220.5" y2="893.6" stroke="#111" stroke-width="0.5" stroke-linecap="butt"/>
<text x="214.5" y="892.5" font-size="3" text-anchor="middle" font-weight="bold" fill="#111" color="#111">100 µm</text>
</g>
<rect x="115.5" y="787.1" width="109.6" height="109.4" fill="none" stroke="#6d6767" stroke-width="1"/>
<g clip-path="url(#cp2)">
<rect x="230.3" y="786.7" width="109.7" height="110.1" fill="#eed6c0"/>
<polygon points="230.3,786.7 340,786.7 340,896.8 230.3,896.8" fill="#fff" opacity="0.85" filter="url(#spP)"/>
<polygon points="230.3,786.7 340,786.7 340,896.8 230.3,896.8" fill="#fff" opacity="0.75" filter="url(#spP2)"/>
<polygon points="230.3,871 248.8,864.4 262,845 270,838 285,842 292,850 290,865 282,878 270,888 262,894 230.3,897" fill="#e07a9a" opacity="0.4"/>
<polygon points="230.3,871 248.8,864.4 262,845 270,838 285,842 292,850 290,865 282,878 270,888 262,894 230.3,897" fill="#fff" opacity="0.9" filter="url(#spP)"/>
<polygon points="283.5,816.4 291.7,809.8 298.3,806.5 306.6,806.5 318.1,809.8 328,823 340,825 340,840 320,835 300,830 285,828" fill="#e594b0" opacity="0.35"/>
<polygon points="230.3,804 238.9,799.9 247.2,796.6 253.8,794.9 254.5,803 257,794 270.3,792.4 286.8,790.8 301.6,787.5 303,786.7 340,786.7 340,825 328,823 318.1,809.8 306.6,806.5 298.3,806.5 291.7,809.8 283.5,816.4 275.2,823 267,831.2 263.7,839.5 262,845 260.4,847.9 255.4,856.2 248.8,864.4 238.9,869.4 230.3,871" fill="#cf2a5c"/>
<polygon points="230.3,804 238.9,799.9 247.2,796.6 253.8,794.9 254.5,803 257,794 270.3,792.4 286.8,790.8 301.6,787.5 303,786.7 340,786.7 340,825 328,823 318.1,809.8 306.6,806.5 298.3,806.5 291.7,809.8 283.5,816.4 275.2,823 267,831.2 263.7,839.5 262,845 260.4,847.9 255.4,856.2 248.8,864.4 238.9,869.4 230.3,871" fill="#fff" opacity="0.35" filter="url(#blob)"/>
<polygon points="230.3,804 238.9,799.9 247.2,796.6 253.8,794.9 254.5,803 257,794 270.3,792.4 286.8,790.8 301.6,787.5 303,786.7 340,786.7 340,825 328,823 318.1,809.8 306.6,806.5 298.3,806.5 291.7,809.8 283.5,816.4 275.2,823 267,831.2 263.7,839.5 262,845 260.4,847.9 255.4,856.2 248.8,864.4 238.9,869.4 230.3,871" fill="#fff" opacity="0.35" filter="url(#dkS)"/>
<polygon points="230.3,804 238.9,799.9 247.2,796.6 253.8,794.9 254.5,803 257,794 270.3,792.4 286.8,790.8 301.6,787.5 303,786.7 340,786.7 340,825 328,823 318.1,809.8 306.6,806.5 298.3,806.5 291.7,809.8 283.5,816.4 275.2,823 267,831.2 263.7,839.5 262,845 260.4,847.9 255.4,856.2 248.8,864.4 238.9,869.4 230.3,871" fill="#fff" opacity="0.45" filter="url(#ltS)"/>
<polygon points="262,894.1 278.5,887.5 291.7,880.9 301.6,877.6 311.5,872.7 321.4,867.7 331.3,862.8 340,856 340,869.4 331.3,874.3 321.4,879.3 311.5,885.9 306.6,892.5 298.3,887.5 286.8,892.5 270.3,897.4 262,897.4" fill="#dc2a5c"/>
<polygon points="262,894.1 278.5,887.5 291.7,880.9 301.6,877.6 311.5,872.7 321.4,867.7 331.3,862.8 340,856 340,869.4 331.3,874.3 321.4,879.3 311.5,885.9 306.6,892.5 298.3,887.5 286.8,892.5 270.3,897.4 262,897.4" fill="#fff" opacity="0.35" filter="url(#ltS)"/>
<polygon points="270.3,897.4 286.8,892.5 298.3,887.5 306.6,892.5 311.5,885.9 321.4,879.3 331.3,874.3 340,869.4 340,897.4" fill="#edd5c4"/>
<text x="235.8" y="795.8" font-size="8.2" text-anchor="start" fill="#262626" color="#262626">Lu.</text>
<text x="309.9" y="854.6" font-size="8.2" text-anchor="start" fill="#262626" color="#262626">S.E.</text>
<line x1="320.5" y1="892.2" x2="334.5" y2="892.2" stroke="#111" stroke-width="0.7" stroke-linecap="butt"/>
<line x1="320.5" y1="890.7" x2="320.5" y2="892.6" stroke="#111" stroke-width="0.5" stroke-linecap="butt"/>
<line x1="334.5" y1="890.7" x2="334.5" y2="892.6" stroke="#111" stroke-width="0.5" stroke-linecap="butt"/>
<text x="327.5" y="891.5" font-size="3" text-anchor="middle" font-weight="bold" fill="#111" color="#111">100 µm</text>
</g>
<rect x="230.8" y="787.2" width="108.7" height="109.1" fill="none" stroke="#6d6767" stroke-width="1"/>
<g clip-path="url(#cp3)">
<rect x="344.8" y="786.7" width="110.2" height="109.8" fill="#c9a2bd"/>
<polygon points="344.8,786.7 455,786.7 455,832 446.3,829.6 436.4,831.2 418.3,832.9 398.5,834.5 390.2,839.7 382,844.6 372,847.9 360.5,850.4 352.3,854.5 344.8,854.5" fill="#fff" opacity="0.9" filter="url(#blobW)"/>
<polygon points="344.8,786.7 455,786.7 455,832 446.3,829.6 436.4,831.2 418.3,832.9 398.5,834.5 390.2,839.7 382,844.6 372,847.9 360.5,850.4 352.3,854.5 344.8,854.5" fill="#fff" opacity="0.5" filter="url(#blobM)"/>
<polygon points="344.8,786.7 455,786.7 455,832 446.3,829.6 436.4,831.2 418.3,832.9 398.5,834.5 390.2,839.7 382,844.6 372,847.9 360.5,850.4 352.3,854.5 344.8,854.5" fill="#fff" opacity="0.5" filter="url(#ltS)"/>
<polygon points="344.8,786.7 455,786.7 455,832 446.3,829.6 436.4,831.2 418.3,832.9 398.5,834.5 390.2,839.7 382,844.6 372,847.9 360.5,850.4 352.3,854.5 344.8,854.5" fill="#fff" opacity="0.25" filter="url(#dkS)"/>
<polygon points="421.6,786.7 455,786.7 455,801 440,795" fill="#ead3cc" opacity="0.85"/>
<polygon points="344.8,854.5 352.3,854.5 360.5,850.4 372,847.9 382,844.6 390.2,839.7 398.5,834.5 418.3,832.9 436.4,831.2 446.3,829.6 455,832 455,854.5 443,857 426.5,860.3 410,864.4 393.5,868.5 377,873.5 360.5,879.3 344.8,882.6" fill="#c23e86"/>
<ellipse cx="349.53" cy="868.06" rx="4.71" ry="11.53" fill="#c44c8e" stroke="#9a2a6c" stroke-width="1.1" opacity="1" transform="rotate(15 349.53 868.06)"/>
<ellipse cx="349.53" cy="868.06" rx="1.41" ry="8.65" fill="#e2a0c8" opacity="0.85" transform="rotate(15 349.53 868.06)"/>
<ellipse cx="358.61" cy="865.54" rx="4.78" ry="12.02" fill="#c44c8e" stroke="#9a2a6c" stroke-width="1.1" opacity="1" transform="rotate(15 358.61 865.54)"/>
<ellipse cx="358.61" cy="865.54" rx="1.43" ry="9.01" fill="#e2a0c8" opacity="0.85" transform="rotate(15 358.61 865.54)"/>
<ellipse cx="367.73" cy="862.79" rx="4.8" ry="11.87" fill="#c44c8e" stroke="#9a2a6c" stroke-width="1.1" opacity="1" transform="rotate(15 367.73 862.79)"/>
<ellipse cx="367.73" cy="862.79" rx="1.44" ry="8.9" fill="#e2a0c8" opacity="0.85" transform="rotate(15 367.73 862.79)"/>
<ellipse cx="376.83" cy="859.93" rx="4.78" ry="11.62" fill="#c44c8e" stroke="#9a2a6c" stroke-width="1.1" opacity="1" transform="rotate(15 376.83 859.93)"/>
<ellipse cx="376.83" cy="859.93" rx="1.43" ry="8.72" fill="#e2a0c8" opacity="0.85" transform="rotate(15 376.83 859.93)"/>
<ellipse cx="385.74" cy="856.61" rx="4.81" ry="12.09" fill="#c44c8e" stroke="#9a2a6c" stroke-width="1.1" opacity="1" transform="rotate(15 385.74 856.61)"/>
<ellipse cx="385.74" cy="856.61" rx="1.44" ry="9.07" fill="#e2a0c8" opacity="0.85" transform="rotate(15 385.74 856.61)"/>
<ellipse cx="394.39" cy="852.77" rx="4.67" ry="13.09" fill="#c44c8e" stroke="#9a2a6c" stroke-width="1.1" opacity="1" transform="rotate(15 394.39 852.77)"/>
<ellipse cx="394.39" cy="852.77" rx="1.4" ry="9.82" fill="#e2a0c8" opacity="0.85" transform="rotate(15 394.39 852.77)"/>
<ellipse cx="403.38" cy="850.02" rx="4.81" ry="13.49" fill="#c44c8e" stroke="#9a2a6c" stroke-width="1.1" opacity="1" transform="rotate(15 403.38 850.02)"/>
<ellipse cx="403.38" cy="850.02" rx="1.44" ry="10.12" fill="#e2a0c8" opacity="0.85" transform="rotate(15 403.38 850.02)"/>
<ellipse cx="412.78" cy="848.48" rx="4.81" ry="12.84" fill="#c44c8e" stroke="#9a2a6c" stroke-width="1.1" opacity="1" transform="rotate(15 412.78 848.48)"/>
<ellipse cx="412.78" cy="848.48" rx="1.44" ry="9.63" fill="#e2a0c8" opacity="0.85" transform="rotate(15 412.78 848.48)"/>
<ellipse cx="422.18" cy="846.93" rx="4.81" ry="12.21" fill="#c44c8e" stroke="#9a2a6c" stroke-width="1.1" opacity="1" transform="rotate(15 422.18 846.93)"/>
<ellipse cx="422.18" cy="846.93" rx="1.44" ry="9.16" fill="#e2a0c8" opacity="0.85" transform="rotate(15 422.18 846.93)"/>
<ellipse cx="431.6" cy="845.46" rx="4.81" ry="11.72" fill="#c44c8e" stroke="#9a2a6c" stroke-width="1.1" opacity="1" transform="rotate(15 431.6 845.46)"/>
<ellipse cx="431.6" cy="845.46" rx="1.44" ry="8.79" fill="#e2a0c8" opacity="0.85" transform="rotate(15 431.6 845.46)"/>
<ellipse cx="441.02" cy="843.92" rx="4.7" ry="11.44" fill="#c44c8e" stroke="#9a2a6c" stroke-width="1.1" opacity="1" transform="rotate(15 441.02 843.92)"/>
<ellipse cx="441.02" cy="843.92" rx="1.41" ry="8.58" fill="#e2a0c8" opacity="0.85" transform="rotate(15 441.02 843.92)"/>
<ellipse cx="450.36" cy="843.09" rx="2.4" ry="10.52" fill="#c44c8e" stroke="#9a2a6c" stroke-width="1.1" opacity="1" transform="rotate(15 450.36 843.09)"/>
<ellipse cx="450.36" cy="843.09" rx="0.72" ry="7.89" fill="#e2a0c8" opacity="0.85" transform="rotate(15 450.36 843.09)"/>
<polygon points="344.8,854.5 352.3,854.5 360.5,850.4 372,847.9 382,844.6 390.2,839.7 398.5,834.5 418.3,832.9 436.4,831.2 446.3,829.6 455,832 455,854.5 443,857 426.5,860.3 410,864.4 393.5,868.5 377,873.5 360.5,879.3 344.8,882.6" fill="#fff" opacity="0.5" filter="url(#ltS)"/>
<polygon points="344.8,882.6 360.5,879.3 377,873.5 393.5,868.5 410,864.4 426.5,860.3 443,857 455,854.5 455,865.2 443,866 426.5,868.5 410,872.7 393.5,879.3 377,887.5 360.5,892.5 344.8,895.8" fill="#d63475"/>
<polygon points="344.8,882.6 360.5,879.3 377,873.5 393.5,868.5 410,864.4 426.5,860.3 443,857 455,854.5 455,865.2 443,866 426.5,868.5 410,872.7 393.5,879.3 377,887.5 360.5,892.5 344.8,895.8" fill="#fff" opacity="0.4" filter="url(#ltS)"/>
<polygon points="344.8,895.8 360.5,892.5 377,887.5 393.5,879.3 410,872.7 426.5,868.5 443,866 455,865.2 455,897 344.8,897" fill="#ecd5c4"/>
<text x="410.5" y="802.5" font-size="8.2" text-anchor="start" fill="#262626" color="#262626">Lu.</text>
<line x1="436.5" y1="893.2" x2="448.5" y2="893.2" stroke="#111" stroke-width="0.7" stroke-linecap="butt"/>
<line x1="436.5" y1="891.7" x2="436.5" y2="893.6" stroke="#111" stroke-width="0.5" stroke-linecap="butt"/>
<line x1="448.5" y1="891.7" x2="448.5" y2="893.6" stroke="#111" stroke-width="0.5" stroke-linecap="butt"/>
<text x="442.5" y="892.5" font-size="3" text-anchor="middle" font-weight="bold" fill="#111" color="#111">100 µm</text>
</g>
<rect x="345.3" y="787.2" width="109.2" height="108.8" fill="none" stroke="#6d6767" stroke-width="1"/>
<g clip-path="url(#cp4)">
<rect x="459.2" y="786.7" width="110.8" height="110.1" fill="#eed6c0"/>
<polygon points="459.2,786.7 570,786.7 570,896.8 459.2,896.8" fill="#fff" opacity="0.6" filter="url(#spP)"/>
<polygon points="459.2,786.7 570,786.7 570,896.8 459.2,896.8" fill="#fff" opacity="0.4" filter="url(#spL)"/>
<polygon points="459.2,786.7 491,786.7 492.7,794.9 499.3,803.2 504.2,806.5 510.8,801.5 519,799.9 527.3,794.9 530.6,786.7 570,786.7 570,823 555.4,823 550.4,832.9 545.5,844.6 537.2,849.6 527.3,854.5 515.8,857.8 504.2,858.6 491,857 477.8,854.5 467.9,851.2 459.7,847.9" fill="#be3a76"/>
<polygon points="459.2,786.7 491,786.7 492.7,794.9 499.3,803.2 504.2,806.5 510.8,801.5 519,799.9 527.3,794.9 530.6,786.7 570,786.7 570,823 555.4,823 550.4,832.9 545.5,844.6 537.2,849.6 527.3,854.5 515.8,857.8 504.2,858.6 491,857 477.8,854.5 467.9,851.2 459.7,847.9" fill="url(#stripeP)" opacity="0.45"/>
<polygon points="459.2,786.7 491,786.7 492.7,794.9 499.3,803.2 504.2,806.5 510.8,801.5 519,799.9 527.3,794.9 530.6,786.7 570,786.7 570,823 555.4,823 550.4,832.9 545.5,844.6 537.2,849.6 527.3,854.5 515.8,857.8 504.2,858.6 491,857 477.8,854.5 467.9,851.2 459.7,847.9" fill="#fff" opacity="0.25" filter="url(#blob)"/>
<polygon points="459.2,786.7 491,786.7 492.7,794.9 499.3,803.2 504.2,806.5 510.8,801.5 519,799.9 527.3,794.9 530.6,786.7 570,786.7 570,823 555.4,823 550.4,832.9 545.5,844.6 537.2,849.6 527.3,854.5 515.8,857.8 504.2,858.6 491,857 477.8,854.5 467.9,851.2 459.7,847.9" fill="#fff" opacity="0.3" filter="url(#dkS)"/>
<polygon points="459.2,786.7 491,786.7 492.7,794.9 499.3,803.2 504.2,806.5 510.8,801.5 519,799.9 527.3,794.9 530.6,786.7 570,786.7 570,823 555.4,823 550.4,832.9 545.5,844.6 537.2,849.6 527.3,854.5 515.8,857.8 504.2,858.6 491,857 477.8,854.5 467.9,851.2 459.7,847.9" fill="#fff" opacity="0.45" filter="url(#ltS)"/>
<polygon points="459.2,848 467.9,851.2 466,858 459.2,860" fill="#efdccf"/>
<polygon points="563,806 566,806 566,814 562,813" fill="#f1e0d8"/>
<polygon points="458,873.5 474.5,880.1 491,885 507.5,887.5 524,886.7 537.2,882.6 550.4,874.3 560.3,866 566.9,857.8 571,852.9 571,866.9 566.9,867.7 560.3,872.7 550.4,880.1 537.2,887.5 524,890.5 507.5,891.6 491,889.2 474.5,885.9 458,881.7" fill="#d7336c"/>
<polygon points="458,873.5 474.5,880.1 491,885 507.5,887.5 524,886.7 537.2,882.6 550.4,874.3 560.3,866 566.9,857.8 571,852.9 571,866.9 566.9,867.7 560.3,872.7 550.4,880.1 537.2,887.5 524,890.5 507.5,891.6 491,889.2 474.5,885.9 458,881.7" fill="#fff" opacity="0.3" filter="url(#dkS)"/>
<polygon points="458,881.7 474.5,885.9 491,889.2 507.5,891.6 524,890.5 537.2,887.5 550.4,880.1 560.3,872.7 566.9,867.7 571,866.9 571,897 458,897" fill="#edd8ca"/>
<text x="509.8" y="798.5" font-size="8.2" text-anchor="start" fill="#262626" color="#262626">Lu.</text>
<text x="527.3" y="872" font-size="8.2" text-anchor="start" fill="#262626" color="#262626">S.E.</text>
<line x1="550.5" y1="892.5" x2="562.5" y2="892.5" stroke="#111" stroke-width="0.7" stroke-linecap="butt"/>
<line x1="550.5" y1="891" x2="550.5" y2="892.9" stroke="#111" stroke-width="0.5" stroke-linecap="butt"/>
<line x1="562.5" y1="891" x2="562.5" y2="892.9" stroke="#111" stroke-width="0.5" stroke-linecap="butt"/>
<text x="556.5" y="891.8" font-size="3" text-anchor="middle" font-weight="bold" fill="#111" color="#111">100 µm</text>
</g>
<rect x="459.7" y="787.2" width="109.8" height="109.1" fill="none" stroke="#6d6767" stroke-width="1"/>
<g clip-path="url(#cp5)">
<rect x="574.3" y="786.7" width="110.3" height="110.3" fill="#ecd3c7"/>
<polygon points="574.3,786.7 685,786.7 685,800 660,830 574.3,876" fill="#fff" opacity="0.45" filter="url(#spL)"/>
<polygon points="574.3,876.8 580.3,874.3 588.5,872.7 596.8,872.7 605,869.4 613.3,862.8 621.5,856.2 629.8,844.6 631.4,841.1 638,837.8 646.3,832.9 649.6,827.9 661.1,823 661.9,814.7 664.4,804.8 669.4,798.2 677.6,794.9 685,791.6 685,846.3 674.3,852.9 664.4,856.2 654.5,861.1 644.6,871 638,877.6 628.1,884.2 618.2,889.2 610,894.1 605,897 574.3,897" fill="#c22a6c"/>
<ellipse cx="581.02" cy="885.87" rx="7.11" ry="12" fill="#cf4a8a" stroke="#9a1a58" stroke-width="1" opacity="1" transform="rotate(-70 581.02 885.87)"/>
<ellipse cx="581.02" cy="885.87" rx="2.13" ry="9" fill="#eaa6c8" opacity="0.85" transform="rotate(-70 581.02 885.87)"/>
<ellipse cx="594.53" cy="884.12" rx="6.93" ry="12" fill="#cf4a8a" stroke="#9a1a58" stroke-width="1" opacity="1" transform="rotate(-70 594.53 884.12)"/>
<ellipse cx="594.53" cy="884.12" rx="2.08" ry="9" fill="#eaa6c8" opacity="0.85" transform="rotate(-70 594.53 884.12)"/>
<ellipse cx="607.51" cy="881.27" rx="7.12" ry="12" fill="#cf4a8a" stroke="#9a1a58" stroke-width="1" opacity="1" transform="rotate(-70 607.51 881.27)"/>
<ellipse cx="607.51" cy="881.27" rx="2.14" ry="9" fill="#eaa6c8" opacity="0.85" transform="rotate(-70 607.51 881.27)"/>
<ellipse cx="618.74" cy="873.42" rx="7.11" ry="12" fill="#cf4a8a" stroke="#9a1a58" stroke-width="1" opacity="1" transform="rotate(-70 618.74 873.42)"/>
<ellipse cx="618.74" cy="873.42" rx="2.13" ry="9" fill="#eaa6c8" opacity="0.85" transform="rotate(-70 618.74 873.42)"/>
<ellipse cx="629.19" cy="864.76" rx="7.11" ry="12" fill="#cf4a8a" stroke="#9a1a58" stroke-width="1" opacity="1" transform="rotate(-70 629.19 864.76)"/>
<ellipse cx="629.19" cy="864.76" rx="2.13" ry="9" fill="#eaa6c8" opacity="0.85" transform="rotate(-70 629.19 864.76)"/>
<ellipse cx="639.74" cy="856.19" rx="7.06" ry="12" fill="#cf4a8a" stroke="#9a1a58" stroke-width="1" opacity="1" transform="rotate(-70 639.74 856.19)"/>
<ellipse cx="639.74" cy="856.19" rx="2.12" ry="9" fill="#eaa6c8" opacity="0.85" transform="rotate(-70 639.74 856.19)"/>
<ellipse cx="650.14" cy="847.39" rx="6.3" ry="12" fill="#cf4a8a" stroke="#9a1a58" stroke-width="1" opacity="1" transform="rotate(-70 650.14 847.39)"/>
<ellipse cx="650.14" cy="847.39" rx="1.89" ry="9" fill="#eaa6c8" opacity="0.85" transform="rotate(-70 650.14 847.39)"/>
<ellipse cx="659.46" cy="838.62" rx="6.86" ry="12" fill="#cf4a8a" stroke="#9a1a58" stroke-width="1" opacity="1" transform="rotate(-70 659.46 838.62)"/>
<ellipse cx="659.46" cy="838.62" rx="2.06" ry="9" fill="#eaa6c8" opacity="0.85" transform="rotate(-70 659.46 838.62)"/>
<ellipse cx="667.35" cy="829.36" rx="7.11" ry="12" fill="#cf4a8a" stroke="#9a1a58" stroke-width="1" opacity="1" transform="rotate(-70 667.35 829.36)"/>
<ellipse cx="667.35" cy="829.36" rx="2.13" ry="9" fill="#eaa6c8" opacity="0.85" transform="rotate(-70 667.35 829.36)"/>
<ellipse cx="678.93" cy="822.12" rx="3.56" ry="12" fill="#cf4a8a" stroke="#9a1a58" stroke-width="1" opacity="1" transform="rotate(-70 678.93 822.12)"/>
<ellipse cx="678.93" cy="822.12" rx="1.07" ry="9" fill="#eaa6c8" opacity="0.85" transform="rotate(-70 678.93 822.12)"/>
<polygon points="574.3,876.8 580.3,874.3 588.5,872.7 596.8,872.7 605,869.4 613.3,862.8 621.5,856.2 629.8,844.6 631.4,841.1 638,837.8 646.3,832.9 649.6,827.9 661.1,823 661.9,814.7 664.4,804.8 669.4,798.2 677.6,794.9 685,791.6 685,846.3 674.3,852.9 664.4,856.2 654.5,861.1 644.6,871 638,877.6 628.1,884.2 618.2,889.2 610,894.1 605,897 574.3,897" fill="#fff" opacity="0.45" filter="url(#ltS)"/>
<polygon points="605,897 610,894.1 618.2,889.2 628.1,884.2 638,877.6 644.6,871 654.5,861.1 664.4,856.2 674.3,852.9 685,846.3 685,849.5 675,856 665,859.5 655,864.5 646,874 639,880.5 629,887 619,892 611,897" fill="#e0306a"/>
<polygon points="611,897 619,892 629,887 639,880.5 646,874 655,864.5 665,859.5 675,856 685,849.5 685,897" fill="#edd5c6"/>
<polygon points="620,830 630,826 634,832 626,836" fill="#dc5a86" opacity="0.8"/>
<text x="592.5" y="805.5" font-size="8.2" text-anchor="start" fill="#262626" color="#262626">Lu.</text>
<line x1="670" y1="893.2" x2="681" y2="893.2" stroke="#111" stroke-width="0.7" stroke-linecap="butt"/>
<line x1="670" y1="891.7" x2="670" y2="893.6" stroke="#111" stroke-width="0.5" stroke-linecap="butt"/>
<line x1="681" y1="891.7" x2="681" y2="893.6" stroke="#111" stroke-width="0.5" stroke-linecap="butt"/>
<text x="675.5" y="892.5" font-size="3" text-anchor="middle" font-weight="bold" fill="#111" color="#111">100 µm</text>
</g>
<rect x="574.8" y="787.2" width="109.3" height="109.3" fill="none" stroke="#6d6767" stroke-width="1"/>
<text x="56" y="913.5" font-size="9.4" text-anchor="middle" fill="#111" color="#111">WT</text>
<text x="170.4" y="913.5" font-size="9.4" text-anchor="middle" fill="#111" color="#111">Δ<tspan font-style="italic">invG</tspan></text>
<text x="285.2" y="913.5" font-size="9.4" text-anchor="middle" fill="#111" color="#111">Δ<tspan font-style="italic">ssaV</tspan></text>
<text x="400.2" y="913.5" font-size="9.4" text-anchor="middle" fill="#111" color="#111">Δ<tspan font-style="italic">invG</tspan>Δ<tspan font-style="italic">ssaV</tspan></text>
<text x="514.7" y="913.5" font-size="9.4" text-anchor="middle" fill="#111" color="#111">Δ<tspan font-style="italic">sopD2</tspan>Δ<tspan font-style="italic">gtgE</tspan></text>
<text x="629.5" y="913.5" font-size="9.4" text-anchor="middle" fill="#111" color="#111">Δ<tspan font-style="italic">invG</tspan>Δ<tspan font-style="italic">sopD2</tspan>Δ<tspan font-style="italic">gtgE</tspan></text>
</svg>
</body></html>
